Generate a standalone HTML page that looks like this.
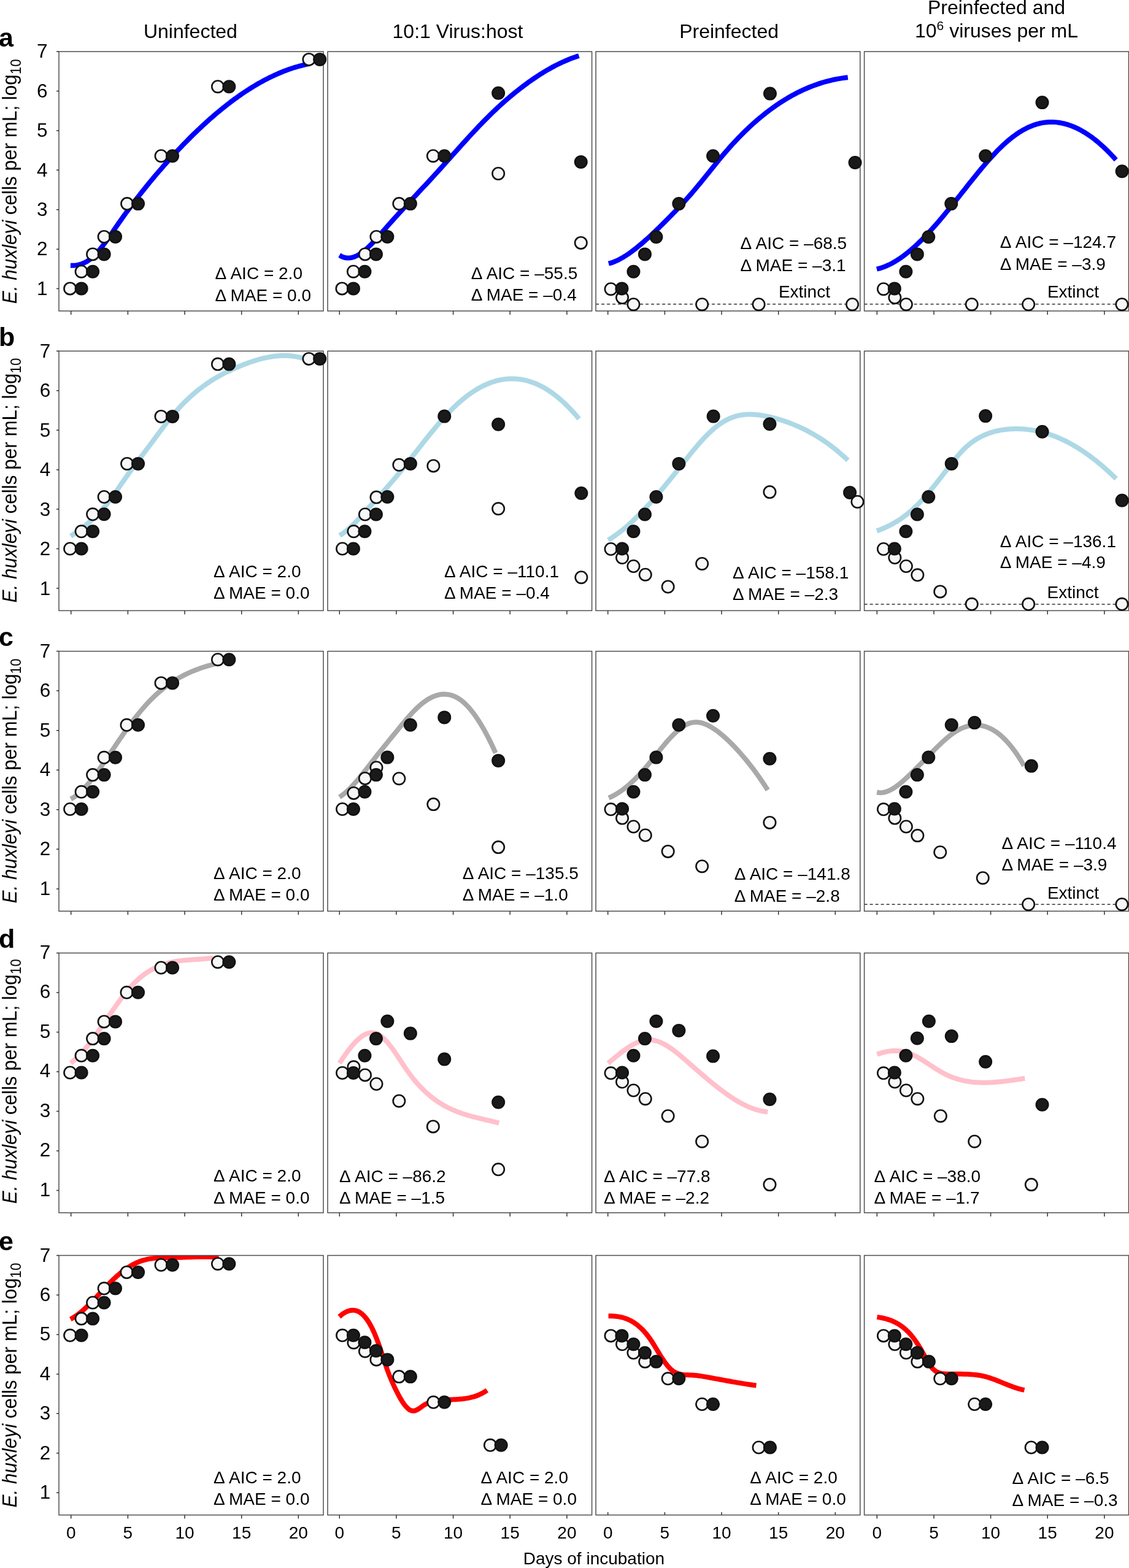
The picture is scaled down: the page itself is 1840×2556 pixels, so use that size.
<!DOCTYPE html><html><head><meta charset="utf-8"><style>html,body{margin:0;padding:0;background:#fff;width:1840px;height:2556px;overflow:hidden}</style></head><body><svg xmlns="http://www.w3.org/2000/svg" width="1840" height="2556" viewBox="0 0 1840 2556" style="position:absolute;left:0;top:0" font-family="'Liberation Sans', Arial, Helvetica, sans-serif">
<rect width="1840" height="2556" fill="#fff"/>
<defs>
<clipPath id="k00"><rect x="96.0" y="84.1" width="431.0" height="422.8"/></clipPath>
<clipPath id="k01"><rect x="534.0" y="84.1" width="430.6" height="422.8"/></clipPath>
<clipPath id="k02"><rect x="971.1" y="84.1" width="430.7" height="422.8"/></clipPath>
<clipPath id="k03"><rect x="1408.6" y="84.1" width="430.9" height="422.8"/></clipPath>
<clipPath id="k10"><rect x="96.0" y="572.3" width="431.0" height="423.1"/></clipPath>
<clipPath id="k11"><rect x="534.0" y="572.3" width="430.6" height="423.1"/></clipPath>
<clipPath id="k12"><rect x="971.1" y="572.3" width="430.7" height="423.1"/></clipPath>
<clipPath id="k13"><rect x="1408.6" y="572.3" width="430.9" height="423.1"/></clipPath>
<clipPath id="k20"><rect x="96.0" y="1061.6" width="431.0" height="423.7"/></clipPath>
<clipPath id="k21"><rect x="534.0" y="1061.6" width="430.6" height="423.7"/></clipPath>
<clipPath id="k22"><rect x="971.1" y="1061.6" width="430.7" height="423.7"/></clipPath>
<clipPath id="k23"><rect x="1408.6" y="1061.6" width="430.9" height="423.7"/></clipPath>
<clipPath id="k30"><rect x="96.0" y="1553.5" width="431.0" height="423.4"/></clipPath>
<clipPath id="k31"><rect x="534.0" y="1553.5" width="430.6" height="423.4"/></clipPath>
<clipPath id="k32"><rect x="971.1" y="1553.5" width="430.7" height="423.4"/></clipPath>
<clipPath id="k33"><rect x="1408.6" y="1553.5" width="430.9" height="423.4"/></clipPath>
<clipPath id="k40"><rect x="96.0" y="2046.5" width="431.0" height="423.1"/></clipPath>
<clipPath id="k41"><rect x="534.0" y="2046.5" width="430.6" height="423.1"/></clipPath>
<clipPath id="k42"><rect x="971.1" y="2046.5" width="430.7" height="423.1"/></clipPath>
<clipPath id="k43"><rect x="1408.6" y="2046.5" width="430.9" height="423.1"/></clipPath>
</defs>
<g font-size="32" text-anchor="middle" fill="#000">
<text x="310.4" y="62">Uninfected</text>
<text x="746" y="62">10:1 Virus:host</text>
<text x="1188.1" y="62">Preinfected</text>
<text x="1624" y="23">Preinfected and</text>
<text x="1624" y="60.6">10<tspan font-size="21" dy="-12">6</tspan><tspan dy="12"> viruses per mL</tspan></text>
</g>
<text x="-2" y="75.9" font-weight="bold" font-size="43">a</text>
<text x="-2" y="564.1" font-weight="bold" font-size="43">b</text>
<text x="-2" y="1053.4" font-weight="bold" font-size="43">c</text>
<text x="-2" y="1545.3" font-weight="bold" font-size="43">d</text>
<text x="-2" y="2038.3" font-weight="bold" font-size="43">e</text>
<text transform="translate(26.5 495.2) rotate(-90) scale(0.968 1)" text-anchor="start" font-size="32.5"><tspan font-style="italic">E. huxleyi</tspan> cells per mL; log<tspan font-size="23" dy="7.5">10</tspan></text>
<text transform="translate(26.5 982.5) rotate(-90) scale(0.968 1)" text-anchor="start" font-size="32.5"><tspan font-style="italic">E. huxleyi</tspan> cells per mL; log<tspan font-size="23" dy="7.5">10</tspan></text>
<text transform="translate(26.5 1472.4) rotate(-90) scale(0.968 1)" text-anchor="start" font-size="32.5"><tspan font-style="italic">E. huxleyi</tspan> cells per mL; log<tspan font-size="23" dy="7.5">10</tspan></text>
<text transform="translate(26.5 1962.2) rotate(-90) scale(0.968 1)" text-anchor="start" font-size="32.5"><tspan font-style="italic">E. huxleyi</tspan> cells per mL; log<tspan font-size="23" dy="7.5">10</tspan></text>
<text transform="translate(26.5 2457.4) rotate(-90) scale(0.968 1)" text-anchor="start" font-size="32.5"><tspan font-style="italic">E. huxleyi</tspan> cells per mL; log<tspan font-size="23" dy="7.5">10</tspan></text>
<path clip-path="url(#k00)" d="M114.90 432.72 L117.90 432.79 L120.91 432.68 L123.91 432.38 L126.92 431.89 L129.92 431.18 L132.93 430.25 L135.93 429.08 L138.94 427.65 L141.94 425.97 L144.95 424.02 L147.95 421.77 L150.96 419.23 L153.96 416.40 L156.96 413.29 L159.97 409.94 L162.97 406.37 L165.98 402.61 L168.98 398.68 L171.99 394.62 L174.99 390.43 L178.00 386.16 L181.00 381.83 L184.01 377.46 L187.01 373.08 L190.02 368.72 L193.02 364.39 L196.02 360.11 L199.03 355.87 L202.03 351.68 L205.04 347.52 L208.04 343.41 L211.05 339.34 L214.05 335.31 L217.06 331.32 L220.06 327.37 L223.07 323.45 L226.07 319.58 L229.08 315.74 L232.08 311.93 L235.08 308.17 L238.09 304.44 L241.09 300.74 L244.10 297.08 L247.10 293.45 L250.11 289.85 L253.11 286.29 L256.12 282.75 L259.12 279.25 L262.13 275.78 L265.13 272.34 L268.14 268.92 L271.14 265.54 L274.14 262.18 L277.15 258.85 L280.15 255.55 L283.16 252.28 L286.16 249.03 L289.17 245.82 L292.17 242.63 L295.18 239.47 L298.18 236.35 L301.19 233.25 L304.19 230.18 L307.20 227.14 L310.20 224.13 L313.20 221.16 L316.21 218.21 L319.21 215.29 L322.22 212.41 L325.22 209.56 L328.23 206.73 L331.23 203.94 L334.24 201.19 L337.24 198.46 L340.25 195.77 L343.25 193.11 L346.26 190.48 L349.26 187.88 L352.26 185.32 L355.27 182.79 L358.27 180.30 L361.28 177.84 L364.28 175.41 L367.29 173.02 L370.29 170.66 L373.30 168.34 L376.30 166.05 L379.31 163.80 L382.31 161.58 L385.32 159.40 L388.32 157.25 L391.32 155.14 L394.33 153.07 L397.33 151.03 L400.34 149.03 L403.34 147.06 L406.35 145.14 L409.35 143.25 L412.36 141.39 L415.36 139.58 L418.37 137.80 L421.37 136.06 L424.38 134.36 L427.38 132.70 L430.38 131.08 L433.39 129.49 L436.39 127.95 L439.40 126.44 L442.40 124.98 L445.41 123.55 L448.41 122.16 L451.42 120.82 L454.42 119.51 L457.43 118.25 L460.43 117.02 L463.44 115.84 L466.44 114.70 L469.44 113.60 L472.45 112.54 L475.45 111.52 L478.46 110.55 L481.46 109.61 L484.47 108.72 L487.47 107.88 L490.48 107.07 L493.48 106.31 L496.49 105.59 L499.49 104.92 L502.50 104.29 L505.50 103.70" fill="none" stroke="#0000ff" stroke-width="8" stroke-linecap="butt"/>
<path clip-path="url(#k01)" d="M553.30 416.09 L556.30 417.82 L559.30 419.11 L562.30 419.98 L565.31 420.45 L568.31 420.53 L571.31 420.26 L574.31 419.65 L577.31 418.71 L580.31 417.47 L583.32 415.95 L586.32 414.16 L589.32 412.13 L592.32 409.87 L595.32 407.40 L598.32 404.75 L601.32 401.93 L604.33 398.97 L607.33 395.88 L610.33 392.67 L613.33 389.38 L616.33 386.02 L619.33 382.61 L622.34 379.17 L625.34 375.72 L628.34 372.27 L631.34 368.85 L634.34 365.45 L637.34 362.08 L640.34 358.73 L643.35 355.40 L646.35 352.09 L649.35 348.79 L652.35 345.52 L655.35 342.25 L658.35 339.00 L661.36 335.76 L664.36 332.53 L667.36 329.31 L670.36 326.09 L673.36 322.88 L676.36 319.68 L679.36 316.47 L682.37 313.26 L685.37 310.05 L688.37 306.84 L691.37 303.62 L694.37 300.40 L697.37 297.17 L700.38 293.93 L703.38 290.67 L706.38 287.41 L709.38 284.13 L712.38 280.83 L715.38 277.52 L718.38 274.20 L721.39 270.87 L724.39 267.53 L727.39 264.18 L730.39 260.82 L733.39 257.47 L736.39 254.11 L739.40 250.76 L742.40 247.40 L745.40 244.05 L748.40 240.71 L751.40 237.37 L754.40 234.05 L757.40 230.74 L760.41 227.44 L763.41 224.15 L766.41 220.88 L769.41 217.64 L772.41 214.41 L775.41 211.21 L778.42 208.03 L781.42 204.87 L784.42 201.75 L787.42 198.66 L790.42 195.60 L793.42 192.57 L796.42 189.58 L799.43 186.62 L802.43 183.71 L805.43 180.83 L808.43 177.99 L811.43 175.19 L814.43 172.43 L817.44 169.71 L820.44 167.02 L823.44 164.37 L826.44 161.76 L829.44 159.19 L832.44 156.65 L835.44 154.16 L838.45 151.69 L841.45 149.27 L844.45 146.88 L847.45 144.53 L850.45 142.22 L853.45 139.95 L856.46 137.71 L859.46 135.50 L862.46 133.34 L865.46 131.22 L868.46 129.13 L871.46 127.08 L874.46 125.07 L877.47 123.11 L880.47 121.18 L883.47 119.29 L886.47 117.45 L889.47 115.65 L892.47 113.89 L895.48 112.17 L898.48 110.50 L901.48 108.87 L904.48 107.29 L907.48 105.75 L910.48 104.25 L913.48 102.80 L916.49 101.40 L919.49 100.05 L922.49 98.74 L925.49 97.48 L928.49 96.26 L931.49 95.10 L934.50 93.99 L937.50 92.92 L940.50 91.91 L943.50 90.94" fill="none" stroke="#0000ff" stroke-width="8" stroke-linecap="butt"/>
<line x1="971.1" x2="1401.8" y1="495.7" y2="495.7" stroke="#333" stroke-width="1.5" stroke-dasharray="5 4"/>
<path clip-path="url(#k02)" d="M991.90 429.65 L994.92 428.82 L997.94 427.85 L1000.97 426.72 L1003.99 425.45 L1007.01 424.05 L1010.03 422.52 L1013.06 420.87 L1016.08 419.10 L1019.10 417.23 L1022.12 415.26 L1025.15 413.19 L1028.17 411.04 L1031.19 408.81 L1034.21 406.51 L1037.24 404.13 L1040.26 401.69 L1043.28 399.19 L1046.30 396.63 L1049.33 394.02 L1052.35 391.35 L1055.37 388.64 L1058.39 385.88 L1061.42 383.07 L1064.44 380.23 L1067.46 377.36 L1070.48 374.46 L1073.51 371.52 L1076.53 368.57 L1079.55 365.59 L1082.57 362.60 L1085.60 359.58 L1088.62 356.55 L1091.64 353.49 L1094.66 350.40 L1097.69 347.29 L1100.71 344.15 L1103.73 340.97 L1106.75 337.77 L1109.78 334.53 L1112.80 331.25 L1115.82 327.94 L1118.84 324.59 L1121.87 321.20 L1124.89 317.76 L1127.91 314.28 L1130.93 310.75 L1133.96 307.17 L1136.98 303.55 L1140.00 299.89 L1143.02 296.19 L1146.05 292.46 L1149.07 288.72 L1152.09 284.96 L1155.11 281.20 L1158.14 277.43 L1161.16 273.67 L1164.18 269.92 L1167.20 266.19 L1170.23 262.48 L1173.25 258.81 L1176.27 255.17 L1179.29 251.58 L1182.32 248.04 L1185.34 244.55 L1188.36 241.12 L1191.38 237.75 L1194.41 234.42 L1197.43 231.16 L1200.45 227.94 L1203.47 224.78 L1206.50 221.68 L1209.52 218.62 L1212.54 215.62 L1215.56 212.67 L1218.59 209.78 L1221.61 206.94 L1224.63 204.15 L1227.65 201.41 L1230.68 198.72 L1233.70 196.09 L1236.72 193.51 L1239.74 190.97 L1242.77 188.49 L1245.79 186.06 L1248.81 183.69 L1251.83 181.36 L1254.86 179.08 L1257.88 176.85 L1260.90 174.67 L1263.92 172.55 L1266.95 170.47 L1269.97 168.44 L1272.99 166.46 L1276.01 164.53 L1279.04 162.64 L1282.06 160.81 L1285.08 159.02 L1288.10 157.29 L1291.13 155.60 L1294.15 153.96 L1297.17 152.36 L1300.19 150.81 L1303.22 149.31 L1306.24 147.86 L1309.26 146.46 L1312.28 145.10 L1315.31 143.78 L1318.33 142.52 L1321.35 141.29 L1324.37 140.12 L1327.40 138.99 L1330.42 137.91 L1333.44 136.87 L1336.46 135.87 L1339.49 134.92 L1342.51 134.02 L1345.53 133.16 L1348.55 132.34 L1351.58 131.57 L1354.60 130.84 L1357.62 130.16 L1360.64 129.52 L1363.67 128.92 L1366.69 128.36 L1369.71 127.85 L1372.73 127.38 L1375.76 126.95 L1378.78 126.57 L1381.80 126.22" fill="none" stroke="#0000ff" stroke-width="8" stroke-linecap="butt"/>
<line x1="1408.6" x2="1839.5" y1="495.7" y2="495.7" stroke="#333" stroke-width="1.5" stroke-dasharray="5 4"/>
<path clip-path="url(#k03)" d="M1428.90 438.65 L1431.92 437.92 L1434.94 437.07 L1437.97 436.09 L1440.99 434.99 L1444.01 433.78 L1447.03 432.45 L1450.06 431.01 L1453.08 429.46 L1456.10 427.81 L1459.12 426.04 L1462.15 424.18 L1465.17 422.22 L1468.19 420.16 L1471.21 418.00 L1474.24 415.75 L1477.26 413.42 L1480.28 410.99 L1483.30 408.48 L1486.33 405.89 L1489.35 403.22 L1492.37 400.47 L1495.39 397.65 L1498.42 394.75 L1501.44 391.79 L1504.46 388.75 L1507.48 385.66 L1510.51 382.50 L1513.53 379.28 L1516.55 376.00 L1519.57 372.67 L1522.60 369.28 L1525.62 365.85 L1528.64 362.37 L1531.66 358.84 L1534.69 355.27 L1537.71 351.66 L1540.73 348.02 L1543.75 344.33 L1546.78 340.62 L1549.80 336.88 L1552.82 333.12 L1555.84 329.33 L1558.87 325.53 L1561.89 321.71 L1564.91 317.89 L1567.93 314.06 L1570.96 310.24 L1573.98 306.41 L1577.00 302.60 L1580.02 298.79 L1583.05 295.00 L1586.07 291.23 L1589.09 287.48 L1592.11 283.76 L1595.14 280.07 L1598.16 276.41 L1601.18 272.80 L1604.20 269.23 L1607.23 265.70 L1610.25 262.23 L1613.27 258.82 L1616.29 255.47 L1619.32 252.18 L1622.34 248.97 L1625.36 245.83 L1628.38 242.77 L1631.41 239.80 L1634.43 236.92 L1637.45 234.13 L1640.47 231.44 L1643.50 228.85 L1646.52 226.36 L1649.54 223.97 L1652.56 221.69 L1655.59 219.51 L1658.61 217.43 L1661.63 215.47 L1664.65 213.60 L1667.68 211.85 L1670.70 210.20 L1673.72 208.66 L1676.74 207.23 L1679.77 205.91 L1682.79 204.71 L1685.81 203.61 L1688.83 202.63 L1691.86 201.76 L1694.88 201.01 L1697.90 200.37 L1700.92 199.85 L1703.95 199.45 L1706.97 199.16 L1709.99 198.98 L1713.01 198.92 L1716.04 198.96 L1719.06 199.12 L1722.08 199.39 L1725.10 199.76 L1728.13 200.24 L1731.15 200.82 L1734.17 201.51 L1737.19 202.30 L1740.22 203.19 L1743.24 204.18 L1746.26 205.28 L1749.28 206.47 L1752.31 207.77 L1755.33 209.16 L1758.35 210.66 L1761.37 212.25 L1764.40 213.94 L1767.42 215.73 L1770.44 217.62 L1773.46 219.60 L1776.49 221.68 L1779.51 223.86 L1782.53 226.13 L1785.55 228.50 L1788.58 230.96 L1791.60 233.51 L1794.62 236.16 L1797.64 238.90 L1800.67 241.74 L1803.69 244.66 L1806.71 247.68 L1809.73 250.78 L1812.76 253.98 L1815.78 257.27 L1818.80 260.65" fill="none" stroke="#0000ff" stroke-width="8" stroke-linecap="butt"/>
<path clip-path="url(#k10)" d="M115.30 873.98 L118.31 871.92 L121.32 869.83 L124.34 867.71 L127.35 865.54 L130.36 863.32 L133.37 861.05 L136.38 858.72 L139.40 856.32 L142.41 853.84 L145.42 851.28 L148.43 848.64 L151.44 845.90 L154.45 843.06 L157.47 840.11 L160.48 837.05 L163.49 833.87 L166.50 830.57 L169.51 827.13 L172.53 823.55 L175.54 819.83 L178.55 815.95 L181.56 811.94 L184.57 807.81 L187.59 803.58 L190.60 799.29 L193.61 794.95 L196.62 790.59 L199.63 786.23 L202.65 781.90 L205.66 777.62 L208.67 773.40 L211.68 769.22 L214.69 765.09 L217.70 761.00 L220.72 756.94 L223.73 752.91 L226.74 748.89 L229.75 744.89 L232.76 740.90 L235.78 736.90 L238.79 732.90 L241.80 728.89 L244.81 724.86 L247.82 720.82 L250.84 716.76 L253.85 712.69 L256.86 708.64 L259.87 704.60 L262.88 700.58 L265.90 696.60 L268.91 692.66 L271.92 688.77 L274.93 684.95 L277.94 681.19 L280.95 677.52 L283.97 673.93 L286.98 670.44 L289.99 667.05 L293.00 663.76 L296.01 660.56 L299.03 657.46 L302.04 654.44 L305.05 651.52 L308.06 648.68 L311.07 645.93 L314.09 643.25 L317.10 640.66 L320.11 638.15 L323.12 635.72 L326.13 633.36 L329.15 631.07 L332.16 628.86 L335.17 626.71 L338.18 624.63 L341.19 622.61 L344.20 620.66 L347.22 618.76 L350.23 616.93 L353.24 615.15 L356.25 613.42 L359.26 611.75 L362.28 610.13 L365.29 608.55 L368.30 607.02 L371.31 605.54 L374.32 604.10 L377.34 602.70 L380.35 601.33 L383.36 600.01 L386.37 598.71 L389.38 597.45 L392.40 596.22 L395.41 595.02 L398.42 593.84 L401.43 592.70 L404.44 591.59 L407.45 590.52 L410.47 589.49 L413.48 588.50 L416.49 587.55 L419.50 586.64 L422.51 585.78 L425.53 584.97 L428.54 584.21 L431.55 583.50 L434.56 582.84 L437.57 582.25 L440.59 581.70 L443.60 581.23 L446.61 580.81 L449.62 580.45 L452.63 580.17 L455.65 579.95 L458.66 579.80 L461.67 579.73 L464.68 579.73 L467.69 579.80 L470.70 579.96 L473.72 580.19 L476.73 580.51 L479.74 580.91 L482.75 581.40 L485.76 581.98 L488.78 582.65 L491.79 583.41 L494.80 584.27" fill="none" stroke="#add8e6" stroke-width="8" stroke-linecap="butt"/>
<path clip-path="url(#k11)" d="M553.50 872.83 L556.50 871.01 L559.50 868.98 L562.50 866.76 L565.50 864.35 L568.50 861.78 L571.50 859.05 L574.51 856.20 L577.51 853.22 L580.51 850.14 L583.51 846.97 L586.51 843.73 L589.51 840.43 L592.51 837.09 L595.51 833.73 L598.51 830.36 L601.51 826.99 L604.51 823.65 L607.51 820.32 L610.51 817.00 L613.52 813.69 L616.52 810.37 L619.52 807.05 L622.52 803.72 L625.52 800.38 L628.52 797.01 L631.52 793.62 L634.52 790.20 L637.52 786.74 L640.52 783.23 L643.52 779.68 L646.52 776.09 L649.52 772.45 L652.53 768.77 L655.53 765.05 L658.53 761.31 L661.53 757.54 L664.53 753.75 L667.53 749.94 L670.53 746.11 L673.53 742.28 L676.53 738.44 L679.53 734.60 L682.53 730.77 L685.53 726.94 L688.53 723.12 L691.54 719.32 L694.54 715.54 L697.54 711.79 L700.54 708.06 L703.54 704.37 L706.54 700.72 L709.54 697.10 L712.54 693.54 L715.54 690.02 L718.54 686.56 L721.54 683.15 L724.54 679.81 L727.54 676.54 L730.55 673.33 L733.55 670.20 L736.55 667.16 L739.55 664.19 L742.55 661.32 L745.55 658.53 L748.55 655.83 L751.55 653.22 L754.55 650.70 L757.55 648.27 L760.55 645.93 L763.55 643.68 L766.55 641.52 L769.56 639.46 L772.56 637.48 L775.56 635.59 L778.56 633.80 L781.56 632.09 L784.56 630.48 L787.56 628.96 L790.56 627.54 L793.56 626.20 L796.56 624.96 L799.56 623.81 L802.56 622.76 L805.56 621.80 L808.57 620.93 L811.57 620.16 L814.57 619.48 L817.57 618.89 L820.57 618.40 L823.57 618.01 L826.57 617.71 L829.57 617.50 L832.57 617.39 L835.57 617.38 L838.57 617.46 L841.57 617.64 L844.57 617.92 L847.58 618.29 L850.58 618.76 L853.58 619.33 L856.58 619.99 L859.58 620.75 L862.58 621.61 L865.58 622.57 L868.58 623.63 L871.58 624.78 L874.58 626.04 L877.58 627.39 L880.58 628.85 L883.58 630.40 L886.59 632.05 L889.59 633.80 L892.59 635.66 L895.59 637.61 L898.59 639.67 L901.59 641.82 L904.59 644.08 L907.59 646.44 L910.59 648.90 L913.59 651.46 L916.59 654.12 L919.59 656.89 L922.59 659.76 L925.60 662.73 L928.60 665.81 L931.60 668.99 L934.60 672.27 L937.60 675.66 L940.60 679.15 L943.60 682.74" fill="none" stroke="#add8e6" stroke-width="8" stroke-linecap="butt"/>
<path clip-path="url(#k12)" d="M991.20 880.35 L994.21 878.52 L997.21 876.59 L1000.22 874.58 L1003.22 872.48 L1006.23 870.30 L1009.23 868.03 L1012.24 865.69 L1015.24 863.27 L1018.25 860.77 L1021.25 858.20 L1024.26 855.56 L1027.26 852.85 L1030.27 850.07 L1033.28 847.23 L1036.28 844.32 L1039.29 841.35 L1042.29 838.33 L1045.30 835.25 L1048.30 832.11 L1051.31 828.92 L1054.31 825.68 L1057.32 822.39 L1060.32 819.05 L1063.33 815.67 L1066.33 812.25 L1069.34 808.79 L1072.35 805.29 L1075.35 801.76 L1078.36 798.19 L1081.36 794.59 L1084.37 790.95 L1087.37 787.30 L1090.38 783.61 L1093.38 779.90 L1096.39 776.17 L1099.39 772.42 L1102.40 768.66 L1105.40 764.88 L1108.41 761.08 L1111.42 757.28 L1114.42 753.49 L1117.43 749.70 L1120.43 745.93 L1123.44 742.19 L1126.44 738.48 L1129.45 734.81 L1132.45 731.19 L1135.46 727.64 L1138.46 724.14 L1141.47 720.73 L1144.47 717.39 L1147.48 714.15 L1150.49 711.00 L1153.49 707.97 L1156.50 705.04 L1159.50 702.24 L1162.51 699.57 L1165.51 697.04 L1168.52 694.65 L1171.52 692.41 L1174.53 690.32 L1177.53 688.36 L1180.54 686.56 L1183.54 684.89 L1186.55 683.37 L1189.56 681.99 L1192.56 680.76 L1195.57 679.66 L1198.57 678.70 L1201.58 677.88 L1204.58 677.19 L1207.59 676.63 L1210.59 676.18 L1213.60 675.84 L1216.60 675.62 L1219.61 675.49 L1222.61 675.47 L1225.62 675.53 L1228.63 675.68 L1231.63 675.91 L1234.64 676.21 L1237.64 676.59 L1240.65 677.02 L1243.65 677.52 L1246.66 678.06 L1249.66 678.66 L1252.67 679.29 L1255.67 679.97 L1258.68 680.69 L1261.68 681.45 L1264.69 682.26 L1267.70 683.10 L1270.70 683.99 L1273.71 684.92 L1276.71 685.89 L1279.72 686.90 L1282.72 687.96 L1285.73 689.05 L1288.73 690.19 L1291.74 691.38 L1294.74 692.60 L1297.75 693.87 L1300.75 695.18 L1303.76 696.54 L1306.77 697.94 L1309.77 699.38 L1312.78 700.88 L1315.78 702.42 L1318.79 704.01 L1321.79 705.65 L1324.80 707.34 L1327.80 709.09 L1330.81 710.88 L1333.81 712.73 L1336.82 714.64 L1339.82 716.60 L1342.83 718.62 L1345.84 720.69 L1348.84 722.83 L1351.85 725.02 L1354.85 727.28 L1357.86 729.59 L1360.86 731.97 L1363.87 734.41 L1366.87 736.92 L1369.88 739.49 L1372.88 742.13 L1375.89 744.83 L1378.89 747.60 L1381.90 750.44" fill="none" stroke="#add8e6" stroke-width="8" stroke-linecap="butt"/>
<line x1="1408.6" x2="1839.5" y1="985" y2="985" stroke="#333" stroke-width="1.5" stroke-dasharray="5 4"/>
<path clip-path="url(#k13)" d="M1428.90 865.46 L1431.90 864.37 L1434.90 863.23 L1437.90 862.02 L1440.90 860.74 L1443.90 859.40 L1446.90 857.98 L1449.91 856.50 L1452.91 854.93 L1455.91 853.28 L1458.91 851.55 L1461.91 849.74 L1464.91 847.83 L1467.91 845.83 L1470.91 843.74 L1473.91 841.55 L1476.91 839.26 L1479.91 836.86 L1482.91 834.36 L1485.91 831.75 L1488.92 829.02 L1491.92 826.18 L1494.92 823.23 L1497.92 820.18 L1500.92 817.03 L1503.92 813.78 L1506.92 810.45 L1509.92 807.04 L1512.92 803.55 L1515.92 799.99 L1518.92 796.38 L1521.92 792.70 L1524.92 788.97 L1527.93 785.20 L1530.93 781.39 L1533.93 777.54 L1536.93 773.67 L1539.93 769.77 L1542.93 765.86 L1545.93 761.94 L1548.93 758.03 L1551.93 754.17 L1554.93 750.36 L1557.93 746.64 L1560.93 743.03 L1563.93 739.56 L1566.94 736.24 L1569.94 733.11 L1572.94 730.17 L1575.94 727.42 L1578.94 724.86 L1581.94 722.47 L1584.94 720.25 L1587.94 718.18 L1590.94 716.26 L1593.94 714.47 L1596.94 712.81 L1599.94 711.26 L1602.94 709.83 L1605.95 708.51 L1608.95 707.29 L1611.95 706.17 L1614.95 705.16 L1617.95 704.23 L1620.95 703.40 L1623.95 702.65 L1626.95 701.98 L1629.95 701.39 L1632.95 700.88 L1635.95 700.44 L1638.95 700.07 L1641.95 699.76 L1644.96 699.51 L1647.96 699.31 L1650.96 699.17 L1653.96 699.10 L1656.96 699.07 L1659.96 699.11 L1662.96 699.20 L1665.96 699.34 L1668.96 699.55 L1671.96 699.81 L1674.96 700.12 L1677.96 700.50 L1680.96 700.92 L1683.97 701.41 L1686.97 701.95 L1689.97 702.55 L1692.97 703.20 L1695.97 703.91 L1698.97 704.68 L1701.97 705.50 L1704.97 706.38 L1707.97 707.31 L1710.97 708.30 L1713.97 709.34 L1716.97 710.44 L1719.97 711.60 L1722.98 712.81 L1725.98 714.07 L1728.98 715.39 L1731.98 716.77 L1734.98 718.20 L1737.98 719.69 L1740.98 721.23 L1743.98 722.82 L1746.98 724.48 L1749.98 726.18 L1752.98 727.94 L1755.98 729.76 L1758.98 731.63 L1761.99 733.55 L1764.99 735.53 L1767.99 737.57 L1770.99 739.66 L1773.99 741.80 L1776.99 743.99 L1779.99 746.25 L1782.99 748.55 L1785.99 750.91 L1788.99 753.32 L1791.99 755.79 L1794.99 758.31 L1797.99 760.89 L1801.00 763.51 L1804.00 766.20 L1807.00 768.93 L1810.00 771.72 L1813.00 774.57 L1816.00 777.46 L1819.00 780.41" fill="none" stroke="#add8e6" stroke-width="8" stroke-linecap="butt"/>
<path clip-path="url(#k20)" d="M115.40 1302.56 L118.41 1300.85 L121.42 1298.89 L124.42 1296.69 L127.43 1294.26 L130.44 1291.61 L133.45 1288.75 L136.45 1285.70 L139.46 1282.47 L142.47 1279.07 L145.48 1275.52 L148.48 1271.82 L151.49 1267.98 L154.50 1264.03 L157.51 1259.97 L160.52 1255.82 L163.52 1251.58 L166.53 1247.27 L169.54 1242.91 L172.55 1238.50 L175.55 1234.05 L178.56 1229.58 L181.57 1225.10 L184.58 1220.63 L187.58 1216.17 L190.59 1211.73 L193.60 1207.32 L196.61 1202.94 L199.62 1198.61 L202.62 1194.31 L205.63 1190.07 L208.64 1185.88 L211.65 1181.75 L214.65 1177.69 L217.66 1173.69 L220.67 1169.78 L223.68 1165.94 L226.68 1162.19 L229.69 1158.53 L232.70 1154.97 L235.71 1151.51 L238.72 1148.16 L241.72 1144.92 L244.73 1141.79 L247.74 1138.76 L250.75 1135.83 L253.75 1133.00 L256.76 1130.27 L259.77 1127.64 L262.78 1125.10 L265.78 1122.65 L268.79 1120.30 L271.80 1118.02 L274.81 1115.84 L277.82 1113.74 L280.82 1111.71 L283.83 1109.77 L286.84 1107.90 L289.85 1106.11 L292.85 1104.39 L295.86 1102.74 L298.87 1101.15 L301.88 1099.63 L304.88 1098.18 L307.89 1096.78 L310.90 1095.44 L313.91 1094.16 L316.92 1092.94 L319.92 1091.77 L322.93 1090.64 L325.94 1089.57 L328.95 1088.54 L331.95 1087.55 L334.96 1086.60 L337.97 1085.70 L340.98 1084.83 L343.98 1083.99 L346.99 1083.19 L350.00 1082.42" fill="none" stroke="#a9a9a9" stroke-width="8" stroke-linecap="butt"/>
<path clip-path="url(#k21)" d="M553.30 1299.38 L556.33 1297.32 L559.36 1295.04 L562.39 1292.55 L565.41 1289.87 L568.44 1287.01 L571.47 1283.98 L574.50 1280.80 L577.53 1277.48 L580.56 1274.04 L583.59 1270.49 L586.61 1266.85 L589.64 1263.12 L592.67 1259.33 L595.70 1255.48 L598.73 1251.60 L601.76 1247.69 L604.79 1243.77 L607.81 1239.85 L610.84 1235.95 L613.87 1232.08 L616.90 1228.25 L619.93 1224.45 L622.96 1220.69 L625.99 1216.94 L629.01 1213.22 L632.04 1209.51 L635.07 1205.80 L638.10 1202.10 L641.13 1198.40 L644.16 1194.68 L647.19 1190.96 L650.21 1187.24 L653.24 1183.53 L656.27 1179.85 L659.30 1176.22 L662.33 1172.65 L665.36 1169.14 L668.39 1165.73 L671.41 1162.42 L674.44 1159.23 L677.47 1156.17 L680.50 1153.25 L683.53 1150.50 L686.56 1147.91 L689.59 1145.49 L692.61 1143.25 L695.64 1141.20 L698.67 1139.32 L701.70 1137.64 L704.73 1136.16 L707.76 1134.87 L710.79 1133.79 L713.81 1132.93 L716.84 1132.27 L719.87 1131.84 L722.90 1131.62 L725.93 1131.64 L728.96 1131.89 L731.99 1132.38 L735.01 1133.12 L738.04 1134.10 L741.07 1135.33 L744.10 1136.83 L747.13 1138.58 L750.16 1140.60 L753.19 1142.89 L756.21 1145.46 L759.24 1148.31 L762.27 1151.42 L765.30 1154.81 L768.33 1158.45 L771.36 1162.35 L774.39 1166.50 L777.41 1170.89 L780.44 1175.53 L783.47 1180.40 L786.50 1185.51 L789.53 1190.84 L792.56 1196.39 L795.59 1202.16 L798.61 1208.15 L801.64 1214.34 L804.67 1220.73 L807.70 1227.31" fill="none" stroke="#a9a9a9" stroke-width="8" stroke-linecap="butt"/>
<path clip-path="url(#k22)" d="M992.10 1300.58 L995.11 1299.28 L998.13 1297.84 L1001.14 1296.26 L1004.15 1294.54 L1007.16 1292.69 L1010.18 1290.71 L1013.19 1288.61 L1016.20 1286.38 L1019.22 1284.03 L1022.23 1281.56 L1025.24 1278.98 L1028.25 1276.29 L1031.27 1273.48 L1034.28 1270.58 L1037.29 1267.57 L1040.30 1264.46 L1043.32 1261.26 L1046.33 1257.96 L1049.34 1254.57 L1052.36 1251.10 L1055.37 1247.55 L1058.38 1243.92 L1061.39 1240.23 L1064.41 1236.51 L1067.42 1232.76 L1070.43 1229.00 L1073.45 1225.25 L1076.46 1221.53 L1079.47 1217.84 L1082.48 1214.22 L1085.50 1210.67 L1088.51 1207.21 L1091.52 1203.86 L1094.53 1200.63 L1097.55 1197.54 L1100.56 1194.60 L1103.57 1191.84 L1106.59 1189.27 L1109.60 1186.90 L1112.61 1184.75 L1115.62 1182.84 L1118.64 1181.18 L1121.65 1179.79 L1124.66 1178.69 L1127.68 1177.89 L1130.69 1177.40 L1133.70 1177.20 L1136.71 1177.29 L1139.73 1177.65 L1142.74 1178.26 L1145.75 1179.11 L1148.77 1180.17 L1151.78 1181.45 L1154.79 1182.91 L1157.80 1184.56 L1160.82 1186.36 L1163.83 1188.30 L1166.84 1190.38 L1169.85 1192.59 L1172.87 1194.91 L1175.88 1197.35 L1178.89 1199.90 L1181.91 1202.56 L1184.92 1205.32 L1187.93 1208.18 L1190.94 1211.14 L1193.96 1214.18 L1196.97 1217.30 L1199.98 1220.51 L1203.00 1223.79 L1206.01 1227.15 L1209.02 1230.58 L1212.03 1234.09 L1215.05 1237.69 L1218.06 1241.37 L1221.07 1245.13 L1224.08 1248.98 L1227.10 1252.92 L1230.11 1256.95 L1233.12 1261.07 L1236.14 1265.29 L1239.15 1269.61 L1242.16 1274.02 L1245.17 1278.54 L1248.19 1283.15 L1251.20 1287.88" fill="none" stroke="#a9a9a9" stroke-width="8" stroke-linecap="butt"/>
<line x1="1408.6" x2="1839.5" y1="1474.2" y2="1474.2" stroke="#333" stroke-width="1.5" stroke-dasharray="5 4"/>
<path clip-path="url(#k23)" d="M1429.10 1291.45 L1432.14 1292.00 L1435.17 1292.16 L1438.21 1291.98 L1441.24 1291.47 L1444.28 1290.65 L1447.31 1289.55 L1450.35 1288.18 L1453.38 1286.58 L1456.42 1284.77 L1459.45 1282.76 L1462.49 1280.58 L1465.53 1278.24 L1468.56 1275.77 L1471.60 1273.17 L1474.63 1270.47 L1477.67 1267.68 L1480.70 1264.81 L1483.74 1261.89 L1486.77 1258.93 L1489.81 1255.94 L1492.84 1252.91 L1495.88 1249.87 L1498.92 1246.80 L1501.95 1243.72 L1504.99 1240.63 L1508.02 1237.53 L1511.06 1234.43 L1514.09 1231.32 L1517.13 1228.22 L1520.16 1225.13 L1523.20 1222.06 L1526.23 1219.01 L1529.27 1216.01 L1532.31 1213.07 L1535.34 1210.19 L1538.38 1207.40 L1541.41 1204.70 L1544.45 1202.11 L1547.48 1199.64 L1550.52 1197.30 L1553.55 1195.10 L1556.59 1193.07 L1559.62 1191.20 L1562.66 1189.49 L1565.69 1187.96 L1568.73 1186.60 L1571.77 1185.40 L1574.80 1184.39 L1577.84 1183.55 L1580.87 1182.88 L1583.91 1182.39 L1586.94 1182.09 L1589.98 1181.97 L1593.01 1182.03 L1596.05 1182.27 L1599.08 1182.71 L1602.12 1183.33 L1605.16 1184.14 L1608.19 1185.15 L1611.23 1186.35 L1614.26 1187.74 L1617.30 1189.33 L1620.33 1191.13 L1623.37 1193.12 L1626.40 1195.31 L1629.44 1197.71 L1632.47 1200.31 L1635.51 1203.13 L1638.55 1206.15 L1641.58 1209.38 L1644.62 1212.82 L1647.65 1216.48 L1650.69 1220.35 L1653.72 1224.44 L1656.76 1228.75 L1659.79 1233.28 L1662.83 1238.04 L1665.86 1243.01 L1668.90 1248.22" fill="none" stroke="#a9a9a9" stroke-width="8" stroke-linecap="butt"/>
<path clip-path="url(#k30)" d="M115.10 1732.94 L118.11 1730.65 L121.12 1728.14 L124.14 1725.43 L127.15 1722.52 L130.16 1719.42 L133.17 1716.16 L136.18 1712.73 L139.19 1709.16 L142.21 1705.45 L145.22 1701.62 L148.23 1697.68 L151.24 1693.64 L154.25 1689.51 L157.26 1685.30 L160.28 1681.04 L163.29 1676.72 L166.30 1672.36 L169.31 1667.97 L172.32 1663.57 L175.33 1659.16 L178.35 1654.77 L181.36 1650.39 L184.37 1646.05 L187.38 1641.75 L190.39 1637.50 L193.40 1633.32 L196.42 1629.23 L199.43 1625.22 L202.44 1621.32 L205.45 1617.54 L208.46 1613.88 L211.47 1610.37 L214.49 1607.00 L217.50 1603.80 L220.51 1600.77 L223.52 1597.91 L226.53 1595.20 L229.54 1592.65 L232.56 1590.25 L235.57 1588.00 L238.58 1585.89 L241.59 1583.92 L244.60 1582.07 L247.61 1580.35 L250.63 1578.75 L253.64 1577.27 L256.65 1575.90 L259.66 1574.64 L262.67 1573.47 L265.68 1572.40 L268.70 1571.42 L271.71 1570.53 L274.72 1569.72 L277.73 1568.99 L280.74 1568.32 L283.75 1567.73 L286.77 1567.19 L289.78 1566.71 L292.79 1566.28 L295.80 1565.90 L298.81 1565.55 L301.82 1565.25 L304.84 1564.97 L307.85 1564.72 L310.86 1564.50 L313.87 1564.28 L316.88 1564.08 L319.89 1563.89 L322.91 1563.70 L325.92 1563.50 L328.93 1563.29 L331.94 1563.07 L334.95 1562.84 L337.96 1562.57 L340.98 1562.28 L343.99 1561.96 L347.00 1561.59" fill="none" stroke="#ffc0cb" stroke-width="8" stroke-linecap="butt"/>
<path clip-path="url(#k31)" d="M553.30 1733.13 L556.32 1728.54 L559.35 1724.06 L562.37 1719.70 L565.39 1715.49 L568.42 1711.44 L571.44 1707.57 L574.46 1703.92 L577.49 1700.49 L580.51 1697.31 L583.53 1694.40 L586.56 1691.79 L589.58 1689.49 L592.60 1687.52 L595.63 1685.90 L598.65 1684.67 L601.67 1683.83 L604.70 1683.40 L607.72 1683.42 L610.74 1683.90 L613.77 1684.86 L616.79 1686.31 L619.81 1688.21 L622.83 1690.54 L625.86 1693.25 L628.88 1696.31 L631.90 1699.70 L634.93 1703.37 L637.95 1707.29 L640.97 1711.43 L644.00 1715.76 L647.02 1720.23 L650.04 1724.80 L653.07 1729.42 L656.09 1734.03 L659.11 1738.58 L662.14 1743.02 L665.16 1747.31 L668.18 1751.43 L671.21 1755.38 L674.23 1759.18 L677.25 1762.82 L680.28 1766.30 L683.30 1769.64 L686.32 1772.84 L689.35 1775.90 L692.37 1778.82 L695.39 1781.61 L698.42 1784.27 L701.44 1786.81 L704.46 1789.23 L707.49 1791.53 L710.51 1793.73 L713.53 1795.81 L716.56 1797.79 L719.58 1799.68 L722.60 1801.46 L725.63 1803.16 L728.65 1804.77 L731.67 1806.29 L734.70 1807.74 L737.72 1809.11 L740.74 1810.41 L743.77 1811.65 L746.79 1812.82 L749.81 1813.93 L752.83 1814.98 L755.86 1815.99 L758.88 1816.94 L761.90 1817.86 L764.93 1818.74 L767.95 1819.58 L770.97 1820.39 L774.00 1821.17 L777.02 1821.93 L780.04 1822.67 L783.07 1823.40 L786.09 1824.11 L789.11 1824.82 L792.14 1825.53 L795.16 1826.23 L798.18 1826.95 L801.21 1827.67 L804.23 1828.40 L807.25 1829.16 L810.28 1829.93 L813.30 1830.73" fill="none" stroke="#ffc0cb" stroke-width="8" stroke-linecap="butt"/>
<path clip-path="url(#k32)" d="M991.20 1733.05 L994.22 1730.54 L997.25 1728.02 L1000.27 1725.51 L1003.29 1723.01 L1006.32 1720.54 L1009.34 1718.12 L1012.36 1715.75 L1015.39 1713.45 L1018.41 1711.24 L1021.43 1709.12 L1024.46 1707.10 L1027.48 1705.21 L1030.50 1703.46 L1033.53 1701.84 L1036.55 1700.38 L1039.57 1699.08 L1042.60 1697.94 L1045.62 1696.99 L1048.64 1696.22 L1051.67 1695.65 L1054.69 1695.28 L1057.71 1695.12 L1060.73 1695.19 L1063.76 1695.50 L1066.78 1696.03 L1069.80 1696.79 L1072.83 1697.76 L1075.85 1698.92 L1078.87 1700.27 L1081.90 1701.80 L1084.92 1703.48 L1087.94 1705.31 L1090.97 1707.27 L1093.99 1709.36 L1097.01 1711.56 L1100.04 1713.85 L1103.06 1716.23 L1106.08 1718.68 L1109.11 1721.19 L1112.13 1723.74 L1115.15 1726.33 L1118.18 1728.95 L1121.20 1731.57 L1124.22 1734.20 L1127.25 1736.83 L1130.27 1739.47 L1133.29 1742.10 L1136.32 1744.73 L1139.34 1747.35 L1142.36 1749.96 L1145.39 1752.56 L1148.41 1755.14 L1151.43 1757.70 L1154.46 1760.24 L1157.48 1762.76 L1160.50 1765.24 L1163.53 1767.70 L1166.55 1770.12 L1169.57 1772.51 L1172.60 1774.85 L1175.62 1777.16 L1178.64 1779.42 L1181.67 1781.63 L1184.69 1783.79 L1187.71 1785.89 L1190.73 1787.94 L1193.76 1789.93 L1196.78 1791.86 L1199.80 1793.72 L1202.83 1795.51 L1205.85 1797.23 L1208.87 1798.88 L1211.90 1800.45 L1214.92 1801.94 L1217.94 1803.35 L1220.97 1804.67 L1223.99 1805.90 L1227.01 1807.04 L1230.04 1808.09 L1233.06 1809.04 L1236.08 1809.89 L1239.11 1810.64 L1242.13 1811.28 L1245.15 1811.81 L1248.18 1812.23 L1251.20 1812.53" fill="none" stroke="#ffc0cb" stroke-width="8" stroke-linecap="butt"/>
<path clip-path="url(#k33)" d="M1429.40 1718.71 L1432.41 1717.64 L1435.42 1716.67 L1438.43 1715.80 L1441.45 1715.03 L1444.46 1714.37 L1447.47 1713.83 L1450.48 1713.40 L1453.49 1713.09 L1456.50 1712.91 L1459.51 1712.86 L1462.52 1712.94 L1465.54 1713.17 L1468.55 1713.53 L1471.56 1714.04 L1474.57 1714.71 L1477.58 1715.53 L1480.59 1716.50 L1483.60 1717.64 L1486.61 1718.93 L1489.62 1720.34 L1492.64 1721.88 L1495.65 1723.52 L1498.66 1725.25 L1501.67 1727.05 L1504.68 1728.92 L1507.69 1730.84 L1510.70 1732.79 L1513.72 1734.76 L1516.73 1736.74 L1519.74 1738.71 L1522.75 1740.66 L1525.76 1742.58 L1528.77 1744.44 L1531.78 1746.24 L1534.79 1747.97 L1537.81 1749.60 L1540.82 1751.14 L1543.83 1752.57 L1546.84 1753.92 L1549.85 1755.17 L1552.86 1756.34 L1555.87 1757.41 L1558.88 1758.40 L1561.89 1759.32 L1564.91 1760.15 L1567.92 1760.90 L1570.93 1761.58 L1573.94 1762.19 L1576.95 1762.72 L1579.96 1763.19 L1582.97 1763.60 L1585.98 1763.94 L1589.00 1764.22 L1592.01 1764.44 L1595.02 1764.61 L1598.03 1764.73 L1601.04 1764.79 L1604.05 1764.81 L1607.06 1764.78 L1610.08 1764.71 L1613.09 1764.60 L1616.10 1764.44 L1619.11 1764.26 L1622.12 1764.04 L1625.13 1763.78 L1628.14 1763.50 L1631.15 1763.19 L1634.16 1762.86 L1637.18 1762.51 L1640.19 1762.13 L1643.20 1761.75 L1646.21 1761.34 L1649.22 1760.93 L1652.23 1760.50 L1655.24 1760.07 L1658.25 1759.63 L1661.27 1759.19 L1664.28 1758.75 L1667.29 1758.32 L1670.30 1757.88" fill="none" stroke="#ffc0cb" stroke-width="8" stroke-linecap="butt"/>
<path clip-path="url(#k40)" d="M114.90 2150.41 L117.92 2148.77 L120.94 2146.93 L123.96 2144.91 L126.98 2142.72 L130.00 2140.36 L133.02 2137.87 L136.04 2135.24 L139.06 2132.49 L142.08 2129.63 L145.10 2126.68 L148.12 2123.65 L151.14 2120.56 L154.16 2117.41 L157.18 2114.22 L160.20 2111.01 L163.22 2107.78 L166.24 2104.55 L169.26 2101.34 L172.28 2098.15 L175.30 2094.99 L178.32 2091.90 L181.34 2088.86 L184.36 2085.91 L187.38 2083.04 L190.40 2080.28 L193.42 2077.64 L196.44 2075.11 L199.46 2072.71 L202.48 2070.43 L205.50 2068.27 L208.52 2066.24 L211.54 2064.33 L214.56 2062.55 L217.58 2060.90 L220.60 2059.38 L223.62 2057.99 L226.64 2056.74 L229.66 2055.62 L232.68 2054.63 L235.70 2053.78 L238.72 2053.05 L241.74 2052.43 L244.76 2051.91 L247.78 2051.48 L250.80 2051.13 L253.82 2050.86 L256.84 2050.64 L259.86 2050.48 L262.88 2050.36 L265.90 2050.27 L268.92 2050.20 L271.94 2050.14 L274.96 2050.08 L277.98 2050.03 L281.00 2049.98 L284.02 2049.92 L287.04 2049.87 L290.06 2049.80 L293.08 2049.73 L296.10 2049.65 L299.12 2049.57 L302.14 2049.47 L305.16 2049.36 L308.18 2049.25 L311.20 2049.14 L314.22 2049.04 L317.24 2048.94 L320.26 2048.85 L323.28 2048.78 L326.30 2048.73 L329.32 2048.69 L332.34 2048.68 L335.36 2048.70 L338.38 2048.76 L341.40 2048.84 L344.42 2048.97 L347.44 2049.14 L350.46 2049.36 L353.48 2049.62 L356.50 2049.94" fill="none" stroke="#ff0000" stroke-width="8" stroke-linecap="butt"/>
<path clip-path="url(#k41)" d="M552.90 2146.36 L555.91 2143.83 L558.92 2141.60 L561.93 2139.70 L564.94 2138.14 L567.96 2136.95 L570.97 2136.16 L573.98 2135.79 L576.99 2135.87 L580.00 2136.42 L583.01 2137.46 L586.02 2139.01 L589.03 2141.12 L592.05 2143.79 L595.06 2147.05 L598.07 2150.92 L601.08 2155.44 L604.09 2160.62 L607.10 2166.50 L610.11 2173.08 L613.12 2180.40 L616.14 2188.37 L619.15 2196.88 L622.16 2205.76 L625.17 2214.91 L628.18 2224.08 L631.19 2232.83 L634.20 2240.88 L637.21 2248.32 L640.23 2255.23 L643.24 2261.71 L646.25 2267.85 L649.26 2273.69 L652.27 2279.16 L655.28 2284.17 L658.29 2288.64 L661.30 2292.49 L664.32 2295.63 L667.33 2297.98 L670.34 2299.46 L673.35 2299.97 L676.36 2299.52 L679.37 2298.30 L682.38 2296.54 L685.39 2294.46 L688.41 2292.30 L691.42 2290.28 L694.43 2288.60 L697.44 2287.24 L700.45 2286.16 L703.46 2285.29 L706.47 2284.56 L709.48 2283.94 L712.50 2283.42 L715.51 2282.98 L718.52 2282.62 L721.53 2282.33 L724.54 2282.09 L727.55 2281.89 L730.56 2281.72 L733.57 2281.57 L736.59 2281.43 L739.60 2281.29 L742.61 2281.14 L745.62 2280.97 L748.63 2280.76 L751.64 2280.51 L754.65 2280.21 L757.66 2279.84 L760.68 2279.39 L763.69 2278.85 L766.70 2278.21 L769.71 2277.47 L772.72 2276.60 L775.73 2275.61 L778.74 2274.47 L781.75 2273.18 L784.77 2271.72 L787.78 2270.09 L790.79 2268.27 L793.80 2266.26" fill="none" stroke="#ff0000" stroke-width="8" stroke-linecap="butt"/>
<path clip-path="url(#k42)" d="M991.60 2145.29 L994.61 2145.27 L997.62 2145.33 L1000.63 2145.48 L1003.64 2145.73 L1006.66 2146.10 L1009.67 2146.59 L1012.68 2147.22 L1015.69 2148.00 L1018.70 2148.93 L1021.71 2150.02 L1024.72 2151.30 L1027.74 2152.77 L1030.75 2154.44 L1033.76 2156.32 L1036.77 2158.42 L1039.78 2160.76 L1042.79 2163.35 L1045.80 2166.18 L1048.81 2169.29 L1051.83 2172.67 L1054.84 2176.35 L1057.85 2180.32 L1060.86 2184.60 L1063.87 2189.20 L1066.88 2194.05 L1069.89 2199.05 L1072.90 2204.08 L1075.91 2209.04 L1078.93 2213.82 L1081.94 2218.33 L1084.95 2222.53 L1087.96 2226.35 L1090.97 2229.75 L1093.98 2232.66 L1096.99 2235.05 L1100.01 2236.93 L1103.02 2238.38 L1106.03 2239.46 L1109.04 2240.22 L1112.05 2240.72 L1115.06 2241.03 L1118.07 2241.21 L1121.08 2241.32 L1124.10 2241.41 L1127.11 2241.55 L1130.12 2241.75 L1133.13 2242.02 L1136.14 2242.35 L1139.15 2242.73 L1142.16 2243.15 L1145.17 2243.61 L1148.18 2244.10 L1151.20 2244.61 L1154.21 2245.15 L1157.22 2245.70 L1160.23 2246.25 L1163.24 2246.81 L1166.25 2247.37 L1169.26 2247.92 L1172.28 2248.48 L1175.29 2249.04 L1178.30 2249.60 L1181.31 2250.15 L1184.32 2250.70 L1187.33 2251.24 L1190.34 2251.79 L1193.35 2252.32 L1196.37 2252.86 L1199.38 2253.38 L1202.39 2253.90 L1205.40 2254.41 L1208.41 2254.91 L1211.42 2255.40 L1214.43 2255.88 L1217.44 2256.36 L1220.45 2256.82 L1223.47 2257.27 L1226.48 2257.70 L1229.49 2258.13 L1232.50 2258.53" fill="none" stroke="#ff0000" stroke-width="8" stroke-linecap="butt"/>
<path clip-path="url(#k43)" d="M1429.40 2146.85 L1432.40 2147.35 L1435.40 2147.90 L1438.40 2148.51 L1441.41 2149.20 L1444.41 2149.98 L1447.41 2150.87 L1450.41 2151.87 L1453.41 2153.01 L1456.41 2154.29 L1459.41 2155.74 L1462.41 2157.36 L1465.41 2159.17 L1468.42 2161.18 L1471.42 2163.41 L1474.42 2165.86 L1477.42 2168.57 L1480.42 2171.52 L1483.42 2174.76 L1486.42 2178.27 L1489.43 2182.09 L1492.43 2186.22 L1495.43 2190.68 L1498.43 2195.48 L1501.43 2200.62 L1504.43 2206.00 L1507.43 2211.46 L1510.43 2216.86 L1513.43 2221.97 L1516.44 2226.53 L1519.44 2230.31 L1522.44 2233.27 L1525.44 2235.51 L1528.44 2237.12 L1531.44 2238.23 L1534.44 2238.92 L1537.45 2239.32 L1540.45 2239.52 L1543.45 2239.63 L1546.45 2239.70 L1549.45 2239.75 L1552.45 2239.78 L1555.45 2239.80 L1558.45 2239.81 L1561.45 2239.82 L1564.46 2239.83 L1567.46 2239.86 L1570.46 2239.91 L1573.46 2239.98 L1576.46 2240.08 L1579.46 2240.21 L1582.46 2240.40 L1585.47 2240.63 L1588.47 2240.91 L1591.47 2241.26 L1594.47 2241.68 L1597.47 2242.17 L1600.47 2242.74 L1603.47 2243.40 L1606.47 2244.15 L1609.47 2244.99 L1612.48 2245.92 L1615.48 2246.91 L1618.48 2247.98 L1621.48 2249.09 L1624.48 2250.25 L1627.48 2251.43 L1630.48 2252.65 L1633.49 2253.87 L1636.49 2255.10 L1639.49 2256.32 L1642.49 2257.52 L1645.49 2258.70 L1648.49 2259.84 L1651.49 2260.93 L1654.49 2261.96 L1657.49 2262.93 L1660.50 2263.82 L1663.50 2264.62 L1666.50 2265.33 L1669.50 2265.93" fill="none" stroke="#ff0000" stroke-width="8" stroke-linecap="butt"/>
<rect x="96.0" y="84.1" width="431.0" height="422.8" fill="none" stroke="#4d4d4d" stroke-width="1.5"/>
<path d="M115.7 506.9V512.9 M208.4 506.9V512.9 M301.0 506.9V512.9 M393.7 506.9V512.9 M486.3 506.9V512.9" stroke="#333" stroke-width="1.5"/>
<rect x="534.0" y="84.1" width="430.6" height="422.8" fill="none" stroke="#4d4d4d" stroke-width="1.5"/>
<path d="M553.3 506.9V512.9 M645.9 506.9V512.9 M738.6 506.9V512.9 M831.2 506.9V512.9 M923.9 506.9V512.9" stroke="#333" stroke-width="1.5"/>
<rect x="971.1" y="84.1" width="430.7" height="422.8" fill="none" stroke="#4d4d4d" stroke-width="1.5"/>
<path d="M990.7 506.9V512.9 M1083.4 506.9V512.9 M1176.0 506.9V512.9 M1268.7 506.9V512.9 M1361.3 506.9V512.9" stroke="#333" stroke-width="1.5"/>
<rect x="1408.6" y="84.1" width="430.9" height="422.8" fill="none" stroke="#4d4d4d" stroke-width="1.5"/>
<path d="M1429.3 506.9V512.9 M1522.0 506.9V512.9 M1614.6 506.9V512.9 M1707.2 506.9V512.9 M1799.9 506.9V512.9" stroke="#333" stroke-width="1.5"/>
<path d="M92 470.6H96 M92 406.2H96 M92 341.7H96 M92 277.3H96 M92 212.9H96 M92 148.5H96 M92 84.1H96" stroke="#333" stroke-width="1.5"/>
<g font-size="31.5" text-anchor="end">
<text x="77.6" y="480.8">1</text>
<text x="77.6" y="416.4">2</text>
<text x="77.6" y="351.9">3</text>
<text x="77.6" y="287.5">4</text>
<text x="77.6" y="223.1">5</text>
<text x="77.6" y="158.7">6</text>
<text x="77.6" y="94.3">7</text>
</g>
<rect x="96.0" y="572.3" width="431.0" height="423.1" fill="none" stroke="#4d4d4d" stroke-width="1.5"/>
<path d="M115.7 995.4V1001.4 M208.4 995.4V1001.4 M301.0 995.4V1001.4 M393.7 995.4V1001.4 M486.3 995.4V1001.4" stroke="#333" stroke-width="1.5"/>
<rect x="534.0" y="572.3" width="430.6" height="423.1" fill="none" stroke="#4d4d4d" stroke-width="1.5"/>
<path d="M553.3 995.4V1001.4 M645.9 995.4V1001.4 M738.6 995.4V1001.4 M831.2 995.4V1001.4 M923.9 995.4V1001.4" stroke="#333" stroke-width="1.5"/>
<rect x="971.1" y="572.3" width="430.7" height="423.1" fill="none" stroke="#4d4d4d" stroke-width="1.5"/>
<path d="M990.7 995.4V1001.4 M1083.4 995.4V1001.4 M1176.0 995.4V1001.4 M1268.7 995.4V1001.4 M1361.3 995.4V1001.4" stroke="#333" stroke-width="1.5"/>
<rect x="1408.6" y="572.3" width="430.9" height="423.1" fill="none" stroke="#4d4d4d" stroke-width="1.5"/>
<path d="M1429.3 995.4V1001.4 M1522.0 995.4V1001.4 M1614.6 995.4V1001.4 M1707.2 995.4V1001.4 M1799.9 995.4V1001.4" stroke="#333" stroke-width="1.5"/>
<path d="M92 959.0H96 M92 894.6H96 M92 830.1H96 M92 765.7H96 M92 701.2H96 M92 636.8H96 M92 572.3H96" stroke="#333" stroke-width="1.5"/>
<g font-size="31.5" text-anchor="end">
<text x="82.4" y="969.6">1</text>
<text x="82.4" y="905.2">2</text>
<text x="82.4" y="840.7">3</text>
<text x="82.4" y="776.3">4</text>
<text x="82.4" y="711.8">5</text>
<text x="82.4" y="647.4">6</text>
<text x="82.4" y="582.9">7</text>
</g>
<rect x="96.0" y="1061.6" width="431.0" height="423.7" fill="none" stroke="#4d4d4d" stroke-width="1.5"/>
<path d="M115.7 1485.3V1491.3 M208.4 1485.3V1491.3 M301.0 1485.3V1491.3 M393.7 1485.3V1491.3 M486.3 1485.3V1491.3" stroke="#333" stroke-width="1.5"/>
<rect x="534.0" y="1061.6" width="430.6" height="423.7" fill="none" stroke="#4d4d4d" stroke-width="1.5"/>
<path d="M553.3 1485.3V1491.3 M645.9 1485.3V1491.3 M738.6 1485.3V1491.3 M831.2 1485.3V1491.3 M923.9 1485.3V1491.3" stroke="#333" stroke-width="1.5"/>
<rect x="971.1" y="1061.6" width="430.7" height="423.7" fill="none" stroke="#4d4d4d" stroke-width="1.5"/>
<path d="M990.7 1485.3V1491.3 M1083.4 1485.3V1491.3 M1176.0 1485.3V1491.3 M1268.7 1485.3V1491.3 M1361.3 1485.3V1491.3" stroke="#333" stroke-width="1.5"/>
<rect x="1408.6" y="1061.6" width="430.9" height="423.7" fill="none" stroke="#4d4d4d" stroke-width="1.5"/>
<path d="M1429.3 1485.3V1491.3 M1522.0 1485.3V1491.3 M1614.6 1485.3V1491.3 M1707.2 1485.3V1491.3 M1799.9 1485.3V1491.3" stroke="#333" stroke-width="1.5"/>
<path d="M92 1448.9H96 M92 1384.3H96 M92 1319.8H96 M92 1255.2H96 M92 1190.7H96 M92 1126.1H96 M92 1061.6H96" stroke="#333" stroke-width="1.5"/>
<g font-size="31.5" text-anchor="end">
<text x="82.4" y="1459.0">1</text>
<text x="82.4" y="1394.4">2</text>
<text x="82.4" y="1329.9">3</text>
<text x="82.4" y="1265.3">4</text>
<text x="82.4" y="1200.8">5</text>
<text x="82.4" y="1136.2">6</text>
<text x="82.4" y="1071.7">7</text>
</g>
<rect x="96.0" y="1553.5" width="431.0" height="423.4" fill="none" stroke="#4d4d4d" stroke-width="1.5"/>
<path d="M115.7 1976.9V1982.9 M208.4 1976.9V1982.9 M301.0 1976.9V1982.9 M393.7 1976.9V1982.9 M486.3 1976.9V1982.9" stroke="#333" stroke-width="1.5"/>
<rect x="534.0" y="1553.5" width="430.6" height="423.4" fill="none" stroke="#4d4d4d" stroke-width="1.5"/>
<path d="M553.3 1976.9V1982.9 M645.9 1976.9V1982.9 M738.6 1976.9V1982.9 M831.2 1976.9V1982.9 M923.9 1976.9V1982.9" stroke="#333" stroke-width="1.5"/>
<rect x="971.1" y="1553.5" width="430.7" height="423.4" fill="none" stroke="#4d4d4d" stroke-width="1.5"/>
<path d="M990.7 1976.9V1982.9 M1083.4 1976.9V1982.9 M1176.0 1976.9V1982.9 M1268.7 1976.9V1982.9 M1361.3 1976.9V1982.9" stroke="#333" stroke-width="1.5"/>
<rect x="1408.6" y="1553.5" width="430.9" height="423.4" fill="none" stroke="#4d4d4d" stroke-width="1.5"/>
<path d="M1429.3 1976.9V1982.9 M1522.0 1976.9V1982.9 M1614.6 1976.9V1982.9 M1707.2 1976.9V1982.9 M1799.9 1976.9V1982.9" stroke="#333" stroke-width="1.5"/>
<path d="M92 1940.5H96 M92 1876.0H96 M92 1811.5H96 M92 1747.0H96 M92 1682.5H96 M92 1618.0H96 M92 1553.5H96" stroke="#333" stroke-width="1.5"/>
<g font-size="31.5" text-anchor="end">
<text x="82.4" y="1949.8">1</text>
<text x="82.4" y="1885.3">2</text>
<text x="82.4" y="1820.8">3</text>
<text x="82.4" y="1756.3">4</text>
<text x="82.4" y="1691.8">5</text>
<text x="82.4" y="1627.3">6</text>
<text x="82.4" y="1562.8">7</text>
</g>
<rect x="96.0" y="2046.5" width="431.0" height="423.1" fill="none" stroke="#4d4d4d" stroke-width="1.5"/>
<path d="M115.7 2469.6V2475.6 M208.4 2469.6V2475.6 M301.0 2469.6V2475.6 M393.7 2469.6V2475.6 M486.3 2469.6V2475.6" stroke="#333" stroke-width="1.5"/>
<rect x="534.0" y="2046.5" width="430.6" height="423.1" fill="none" stroke="#4d4d4d" stroke-width="1.5"/>
<path d="M553.3 2469.6V2475.6 M645.9 2469.6V2475.6 M738.6 2469.6V2475.6 M831.2 2469.6V2475.6 M923.9 2469.6V2475.6" stroke="#333" stroke-width="1.5"/>
<rect x="971.1" y="2046.5" width="430.7" height="423.1" fill="none" stroke="#4d4d4d" stroke-width="1.5"/>
<path d="M990.7 2469.6V2465.1 M1083.4 2469.6V2465.1 M1176.0 2469.6V2465.1 M1268.7 2469.6V2465.1 M1361.3 2469.6V2465.1" stroke="#333" stroke-width="1.5"/>
<rect x="1408.6" y="2046.5" width="430.9" height="423.1" fill="none" stroke="#4d4d4d" stroke-width="1.5"/>
<path d="M1429.3 2469.6V2475.6 M1522.0 2469.6V2475.6 M1614.6 2469.6V2475.6 M1707.2 2469.6V2475.6 M1799.9 2469.6V2475.6" stroke="#333" stroke-width="1.5"/>
<path d="M92 2433.2H96 M92 2368.8H96 M92 2304.3H96 M92 2239.9H96 M92 2175.4H96 M92 2111.0H96 M92 2046.5H96" stroke="#333" stroke-width="1.5"/>
<g font-size="31.5" text-anchor="end">
<text x="82.4" y="2443.2">1</text>
<text x="82.4" y="2378.8">2</text>
<text x="82.4" y="2314.3">3</text>
<text x="82.4" y="2249.9">4</text>
<text x="82.4" y="2185.4">5</text>
<text x="82.4" y="2121.0">6</text>
<text x="82.4" y="2056.5">7</text>
</g>
<g font-size="28" text-anchor="middle">
<text x="115.7" y="2508">0</text>
<text x="208.4" y="2508">5</text>
<text x="301.0" y="2508">10</text>
<text x="393.7" y="2508">15</text>
<text x="486.3" y="2508">20</text>
<text x="553.3" y="2508">0</text>
<text x="645.9" y="2508">5</text>
<text x="738.6" y="2508">10</text>
<text x="831.2" y="2508">15</text>
<text x="923.9" y="2508">20</text>
<text x="990.7" y="2508">0</text>
<text x="1083.4" y="2508">5</text>
<text x="1176.0" y="2508">10</text>
<text x="1268.7" y="2508">15</text>
<text x="1361.3" y="2508">20</text>
<text x="1429.3" y="2508">0</text>
<text x="1522.0" y="2508">5</text>
<text x="1614.6" y="2508">10</text>
<text x="1707.2" y="2508">15</text>
<text x="1799.9" y="2508">20</text>
</g>
<text x="967.9" y="2550" text-anchor="middle" font-size="28">Days of incubation</text>
<circle cx="114.15" cy="470.40" r="9.7" fill="#f7f7f7" stroke="#111" stroke-width="2.6"/>
<circle cx="132.65" cy="442.70" r="9.7" fill="#f7f7f7" stroke="#111" stroke-width="2.6"/>
<circle cx="151.15" cy="414.40" r="9.7" fill="#f7f7f7" stroke="#111" stroke-width="2.6"/>
<circle cx="169.65" cy="385.90" r="9.7" fill="#f7f7f7" stroke="#111" stroke-width="2.6"/>
<circle cx="207.15" cy="332.10" r="9.7" fill="#f7f7f7" stroke="#111" stroke-width="2.6"/>
<circle cx="262.55" cy="254.20" r="9.7" fill="#f7f7f7" stroke="#111" stroke-width="2.6"/>
<circle cx="354.95" cy="141.20" r="9.7" fill="#f7f7f7" stroke="#111" stroke-width="2.6"/>
<circle cx="503.45" cy="96.90" r="9.7" fill="#f7f7f7" stroke="#111" stroke-width="2.6"/>
<circle cx="132.65" cy="470.40" r="9.7" fill="#1a1a1a" stroke="#111" stroke-width="2.6"/>
<circle cx="151.15" cy="442.70" r="9.7" fill="#1a1a1a" stroke="#111" stroke-width="2.6"/>
<circle cx="169.65" cy="414.40" r="9.7" fill="#1a1a1a" stroke="#111" stroke-width="2.6"/>
<circle cx="188.05" cy="385.90" r="9.7" fill="#1a1a1a" stroke="#111" stroke-width="2.6"/>
<circle cx="225.05" cy="332.10" r="9.7" fill="#1a1a1a" stroke="#111" stroke-width="2.6"/>
<circle cx="281.05" cy="254.20" r="9.7" fill="#1a1a1a" stroke="#111" stroke-width="2.6"/>
<circle cx="373.35" cy="141.20" r="9.7" fill="#1a1a1a" stroke="#111" stroke-width="2.6"/>
<circle cx="521.15" cy="96.90" r="9.7" fill="#1a1a1a" stroke="#111" stroke-width="2.6"/>
<text x="350.5" y="454.9" text-anchor="start" font-size="28">Δ AIC = 2.0</text>
<text x="350.5" y="490.6" text-anchor="start" font-size="28">Δ MAE = 0.0</text>
<circle cx="557.45" cy="470.40" r="9.7" fill="#f7f7f7" stroke="#111" stroke-width="2.6"/>
<circle cx="575.95" cy="442.70" r="9.7" fill="#f7f7f7" stroke="#111" stroke-width="2.6"/>
<circle cx="594.95" cy="414.40" r="9.7" fill="#f7f7f7" stroke="#111" stroke-width="2.6"/>
<circle cx="613.45" cy="385.90" r="9.7" fill="#f7f7f7" stroke="#111" stroke-width="2.6"/>
<circle cx="650.35" cy="332.10" r="9.7" fill="#f7f7f7" stroke="#111" stroke-width="2.6"/>
<circle cx="705.85" cy="254.20" r="9.7" fill="#f7f7f7" stroke="#111" stroke-width="2.6"/>
<circle cx="812.15" cy="283.00" r="9.7" fill="#f7f7f7" stroke="#111" stroke-width="2.6"/>
<circle cx="946.75" cy="395.90" r="9.7" fill="#f7f7f7" stroke="#111" stroke-width="2.6"/>
<circle cx="575.95" cy="470.40" r="9.7" fill="#1a1a1a" stroke="#111" stroke-width="2.6"/>
<circle cx="594.45" cy="442.70" r="9.7" fill="#1a1a1a" stroke="#111" stroke-width="2.6"/>
<circle cx="612.95" cy="414.40" r="9.7" fill="#1a1a1a" stroke="#111" stroke-width="2.6"/>
<circle cx="631.35" cy="385.90" r="9.7" fill="#1a1a1a" stroke="#111" stroke-width="2.6"/>
<circle cx="668.85" cy="332.10" r="9.7" fill="#1a1a1a" stroke="#111" stroke-width="2.6"/>
<circle cx="724.25" cy="254.20" r="9.7" fill="#1a1a1a" stroke="#111" stroke-width="2.6"/>
<circle cx="812.15" cy="151.80" r="9.7" fill="#1a1a1a" stroke="#111" stroke-width="2.6"/>
<circle cx="946.75" cy="264.00" r="9.7" fill="#1a1a1a" stroke="#111" stroke-width="2.6"/>
<text x="767.6999999999999" y="454.8" text-anchor="start" font-size="28">Δ AIC = –55.5</text>
<text x="767.6999999999999" y="489.9" text-anchor="start" font-size="28">Δ MAE = –0.4</text>
<circle cx="995.55" cy="471.20" r="9.7" fill="#f7f7f7" stroke="#111" stroke-width="2.6"/>
<circle cx="1014.05" cy="485.10" r="9.7" fill="#f7f7f7" stroke="#111" stroke-width="2.6"/>
<circle cx="1032.45" cy="496.20" r="9.7" fill="#f7f7f7" stroke="#111" stroke-width="2.6"/>
<circle cx="1144.15" cy="496.20" r="9.7" fill="#f7f7f7" stroke="#111" stroke-width="2.6"/>
<circle cx="1236.55" cy="496.20" r="9.7" fill="#f7f7f7" stroke="#111" stroke-width="2.6"/>
<circle cx="1389.05" cy="496.20" r="9.7" fill="#f7f7f7" stroke="#111" stroke-width="2.6"/>
<circle cx="1013.45" cy="470.40" r="9.7" fill="#1a1a1a" stroke="#111" stroke-width="2.6"/>
<circle cx="1032.45" cy="442.70" r="9.7" fill="#1a1a1a" stroke="#111" stroke-width="2.6"/>
<circle cx="1050.95" cy="414.40" r="9.7" fill="#1a1a1a" stroke="#111" stroke-width="2.6"/>
<circle cx="1069.45" cy="386.20" r="9.7" fill="#1a1a1a" stroke="#111" stroke-width="2.6"/>
<circle cx="1106.35" cy="332.10" r="9.7" fill="#1a1a1a" stroke="#111" stroke-width="2.6"/>
<circle cx="1162.05" cy="254.20" r="9.7" fill="#1a1a1a" stroke="#111" stroke-width="2.6"/>
<circle cx="1254.95" cy="152.60" r="9.7" fill="#1a1a1a" stroke="#111" stroke-width="2.6"/>
<circle cx="1393.55" cy="265.00" r="9.7" fill="#1a1a1a" stroke="#111" stroke-width="2.6"/>
<text x="1206.6" y="406.1" text-anchor="start" font-size="28">Δ AIC = –68.5</text>
<text x="1206.6" y="441.7" text-anchor="start" font-size="28">Δ MAE = –3.1</text>
<text x="1268.9" y="485.4" text-anchor="start" font-size="28">Extinct</text>
<circle cx="1439.95" cy="471.20" r="9.7" fill="#f7f7f7" stroke="#111" stroke-width="2.6"/>
<circle cx="1458.35" cy="485.10" r="9.7" fill="#f7f7f7" stroke="#111" stroke-width="2.6"/>
<circle cx="1476.85" cy="496.20" r="9.7" fill="#f7f7f7" stroke="#111" stroke-width="2.6"/>
<circle cx="1583.75" cy="496.20" r="9.7" fill="#f7f7f7" stroke="#111" stroke-width="2.6"/>
<circle cx="1676.15" cy="496.20" r="9.7" fill="#f7f7f7" stroke="#111" stroke-width="2.6"/>
<circle cx="1828.45" cy="496.20" r="9.7" fill="#f7f7f7" stroke="#111" stroke-width="2.6"/>
<circle cx="1457.85" cy="470.40" r="9.7" fill="#1a1a1a" stroke="#111" stroke-width="2.6"/>
<circle cx="1476.35" cy="442.70" r="9.7" fill="#1a1a1a" stroke="#111" stroke-width="2.6"/>
<circle cx="1494.85" cy="414.40" r="9.7" fill="#1a1a1a" stroke="#111" stroke-width="2.6"/>
<circle cx="1513.25" cy="386.20" r="9.7" fill="#1a1a1a" stroke="#111" stroke-width="2.6"/>
<circle cx="1550.25" cy="332.10" r="9.7" fill="#1a1a1a" stroke="#111" stroke-width="2.6"/>
<circle cx="1606.15" cy="254.20" r="9.7" fill="#1a1a1a" stroke="#111" stroke-width="2.6"/>
<circle cx="1698.55" cy="167.10" r="9.7" fill="#1a1a1a" stroke="#111" stroke-width="2.6"/>
<circle cx="1828.65" cy="279.30" r="9.7" fill="#1a1a1a" stroke="#111" stroke-width="2.6"/>
<text x="1629.8" y="403.6" text-anchor="start" font-size="28">Δ AIC = –124.7</text>
<text x="1629.8" y="439.7" text-anchor="start" font-size="28">Δ MAE = –3.9</text>
<text x="1706.9" y="485.4" text-anchor="start" font-size="28">Extinct</text>
<circle cx="114.15" cy="894.50" r="9.7" fill="#f7f7f7" stroke="#111" stroke-width="2.6"/>
<circle cx="132.65" cy="866.30" r="9.7" fill="#f7f7f7" stroke="#111" stroke-width="2.6"/>
<circle cx="151.15" cy="838.30" r="9.7" fill="#f7f7f7" stroke="#111" stroke-width="2.6"/>
<circle cx="169.65" cy="810.00" r="9.7" fill="#f7f7f7" stroke="#111" stroke-width="2.6"/>
<circle cx="207.15" cy="755.90" r="9.7" fill="#f7f7f7" stroke="#111" stroke-width="2.6"/>
<circle cx="262.55" cy="678.90" r="9.7" fill="#f7f7f7" stroke="#111" stroke-width="2.6"/>
<circle cx="354.95" cy="593.60" r="9.7" fill="#f7f7f7" stroke="#111" stroke-width="2.6"/>
<circle cx="503.45" cy="584.90" r="9.7" fill="#f7f7f7" stroke="#111" stroke-width="2.6"/>
<circle cx="132.65" cy="894.50" r="9.7" fill="#1a1a1a" stroke="#111" stroke-width="2.6"/>
<circle cx="151.15" cy="866.30" r="9.7" fill="#1a1a1a" stroke="#111" stroke-width="2.6"/>
<circle cx="169.65" cy="838.30" r="9.7" fill="#1a1a1a" stroke="#111" stroke-width="2.6"/>
<circle cx="188.05" cy="810.00" r="9.7" fill="#1a1a1a" stroke="#111" stroke-width="2.6"/>
<circle cx="225.05" cy="755.90" r="9.7" fill="#1a1a1a" stroke="#111" stroke-width="2.6"/>
<circle cx="281.05" cy="678.90" r="9.7" fill="#1a1a1a" stroke="#111" stroke-width="2.6"/>
<circle cx="373.35" cy="593.60" r="9.7" fill="#1a1a1a" stroke="#111" stroke-width="2.6"/>
<circle cx="521.15" cy="584.90" r="9.7" fill="#1a1a1a" stroke="#111" stroke-width="2.6"/>
<text x="348.1" y="941" text-anchor="start" font-size="28">Δ AIC = 2.0</text>
<text x="348.1" y="976.3" text-anchor="start" font-size="28">Δ MAE = 0.0</text>
<circle cx="558.05" cy="894.50" r="9.7" fill="#f7f7f7" stroke="#111" stroke-width="2.6"/>
<circle cx="576.45" cy="866.30" r="9.7" fill="#f7f7f7" stroke="#111" stroke-width="2.6"/>
<circle cx="594.95" cy="838.50" r="9.7" fill="#f7f7f7" stroke="#111" stroke-width="2.6"/>
<circle cx="613.45" cy="810.60" r="9.7" fill="#f7f7f7" stroke="#111" stroke-width="2.6"/>
<circle cx="650.35" cy="757.80" r="9.7" fill="#f7f7f7" stroke="#111" stroke-width="2.6"/>
<circle cx="706.35" cy="759.40" r="9.7" fill="#f7f7f7" stroke="#111" stroke-width="2.6"/>
<circle cx="812.15" cy="829.30" r="9.7" fill="#f7f7f7" stroke="#111" stroke-width="2.6"/>
<circle cx="947.35" cy="941.20" r="9.7" fill="#f7f7f7" stroke="#111" stroke-width="2.6"/>
<circle cx="575.95" cy="894.50" r="9.7" fill="#1a1a1a" stroke="#111" stroke-width="2.6"/>
<circle cx="594.45" cy="866.30" r="9.7" fill="#1a1a1a" stroke="#111" stroke-width="2.6"/>
<circle cx="612.95" cy="838.50" r="9.7" fill="#1a1a1a" stroke="#111" stroke-width="2.6"/>
<circle cx="631.35" cy="810.00" r="9.7" fill="#1a1a1a" stroke="#111" stroke-width="2.6"/>
<circle cx="668.85" cy="755.90" r="9.7" fill="#1a1a1a" stroke="#111" stroke-width="2.6"/>
<circle cx="724.25" cy="678.60" r="9.7" fill="#1a1a1a" stroke="#111" stroke-width="2.6"/>
<circle cx="812.15" cy="691.80" r="9.7" fill="#1a1a1a" stroke="#111" stroke-width="2.6"/>
<circle cx="947.35" cy="804.00" r="9.7" fill="#1a1a1a" stroke="#111" stroke-width="2.6"/>
<text x="723.9" y="940.5" text-anchor="start" font-size="28">Δ AIC = –110.1</text>
<text x="723.9" y="975.8" text-anchor="start" font-size="28">Δ MAE = –0.4</text>
<circle cx="995.55" cy="895.00" r="9.7" fill="#f7f7f7" stroke="#111" stroke-width="2.6"/>
<circle cx="1014.05" cy="909.00" r="9.7" fill="#f7f7f7" stroke="#111" stroke-width="2.6"/>
<circle cx="1032.45" cy="923.00" r="9.7" fill="#f7f7f7" stroke="#111" stroke-width="2.6"/>
<circle cx="1051.75" cy="936.70" r="9.7" fill="#f7f7f7" stroke="#111" stroke-width="2.6"/>
<circle cx="1088.65" cy="956.50" r="9.7" fill="#f7f7f7" stroke="#111" stroke-width="2.6"/>
<circle cx="1144.15" cy="919.00" r="9.7" fill="#f7f7f7" stroke="#111" stroke-width="2.6"/>
<circle cx="1254.45" cy="802.10" r="9.7" fill="#f7f7f7" stroke="#111" stroke-width="2.6"/>
<circle cx="1014.05" cy="894.50" r="9.7" fill="#1a1a1a" stroke="#111" stroke-width="2.6"/>
<circle cx="1032.45" cy="866.30" r="9.7" fill="#1a1a1a" stroke="#111" stroke-width="2.6"/>
<circle cx="1050.95" cy="838.50" r="9.7" fill="#1a1a1a" stroke="#111" stroke-width="2.6"/>
<circle cx="1069.45" cy="810.00" r="9.7" fill="#1a1a1a" stroke="#111" stroke-width="2.6"/>
<circle cx="1106.35" cy="755.90" r="9.7" fill="#1a1a1a" stroke="#111" stroke-width="2.6"/>
<circle cx="1162.65" cy="678.60" r="9.7" fill="#1a1a1a" stroke="#111" stroke-width="2.6"/>
<circle cx="1254.45" cy="691.30" r="9.7" fill="#1a1a1a" stroke="#111" stroke-width="2.6"/>
<circle cx="1385.05" cy="802.90" r="9.7" fill="#1a1a1a" stroke="#111" stroke-width="2.6"/>
<circle cx="1397.45" cy="818.00" r="9.7" fill="#f7f7f7" stroke="#111" stroke-width="2.6"/>
<text x="1194.1" y="942.8" text-anchor="start" font-size="28">Δ AIC = –158.1</text>
<text x="1194.1" y="977.6" text-anchor="start" font-size="28">Δ MAE = –2.3</text>
<circle cx="1439.95" cy="895.00" r="9.7" fill="#f7f7f7" stroke="#111" stroke-width="2.6"/>
<circle cx="1458.35" cy="909.00" r="9.7" fill="#f7f7f7" stroke="#111" stroke-width="2.6"/>
<circle cx="1476.85" cy="923.00" r="9.7" fill="#f7f7f7" stroke="#111" stroke-width="2.6"/>
<circle cx="1495.35" cy="937.30" r="9.7" fill="#f7f7f7" stroke="#111" stroke-width="2.6"/>
<circle cx="1532.25" cy="964.40" r="9.7" fill="#f7f7f7" stroke="#111" stroke-width="2.6"/>
<circle cx="1583.75" cy="984.80" r="9.7" fill="#f7f7f7" stroke="#111" stroke-width="2.6"/>
<circle cx="1676.15" cy="984.80" r="9.7" fill="#f7f7f7" stroke="#111" stroke-width="2.6"/>
<circle cx="1828.45" cy="984.80" r="9.7" fill="#f7f7f7" stroke="#111" stroke-width="2.6"/>
<circle cx="1457.85" cy="894.50" r="9.7" fill="#1a1a1a" stroke="#111" stroke-width="2.6"/>
<circle cx="1476.35" cy="866.30" r="9.7" fill="#1a1a1a" stroke="#111" stroke-width="2.6"/>
<circle cx="1494.85" cy="838.50" r="9.7" fill="#1a1a1a" stroke="#111" stroke-width="2.6"/>
<circle cx="1513.25" cy="810.00" r="9.7" fill="#1a1a1a" stroke="#111" stroke-width="2.6"/>
<circle cx="1550.75" cy="755.90" r="9.7" fill="#1a1a1a" stroke="#111" stroke-width="2.6"/>
<circle cx="1606.15" cy="678.10" r="9.7" fill="#1a1a1a" stroke="#111" stroke-width="2.6"/>
<circle cx="1698.55" cy="703.70" r="9.7" fill="#1a1a1a" stroke="#111" stroke-width="2.6"/>
<circle cx="1828.65" cy="815.80" r="9.7" fill="#1a1a1a" stroke="#111" stroke-width="2.6"/>
<text x="1629.8" y="892" text-anchor="start" font-size="28">Δ AIC = –136.1</text>
<text x="1629.8" y="926.4" text-anchor="start" font-size="28">Δ MAE = –4.9</text>
<text x="1706.5" y="975.4" text-anchor="start" font-size="28">Extinct</text>
<circle cx="114.15" cy="1319.00" r="9.7" fill="#f7f7f7" stroke="#111" stroke-width="2.6"/>
<circle cx="132.65" cy="1290.80" r="9.7" fill="#f7f7f7" stroke="#111" stroke-width="2.6"/>
<circle cx="151.15" cy="1263.10" r="9.7" fill="#f7f7f7" stroke="#111" stroke-width="2.6"/>
<circle cx="169.65" cy="1234.80" r="9.7" fill="#f7f7f7" stroke="#111" stroke-width="2.6"/>
<circle cx="206.55" cy="1181.80" r="9.7" fill="#f7f7f7" stroke="#111" stroke-width="2.6"/>
<circle cx="262.55" cy="1113.40" r="9.7" fill="#f7f7f7" stroke="#111" stroke-width="2.6"/>
<circle cx="354.95" cy="1075.20" r="9.7" fill="#f7f7f7" stroke="#111" stroke-width="2.6"/>
<circle cx="132.65" cy="1319.00" r="9.7" fill="#1a1a1a" stroke="#111" stroke-width="2.6"/>
<circle cx="151.15" cy="1290.80" r="9.7" fill="#1a1a1a" stroke="#111" stroke-width="2.6"/>
<circle cx="169.65" cy="1263.10" r="9.7" fill="#1a1a1a" stroke="#111" stroke-width="2.6"/>
<circle cx="188.05" cy="1234.80" r="9.7" fill="#1a1a1a" stroke="#111" stroke-width="2.6"/>
<circle cx="225.05" cy="1181.80" r="9.7" fill="#1a1a1a" stroke="#111" stroke-width="2.6"/>
<circle cx="281.05" cy="1113.40" r="9.7" fill="#1a1a1a" stroke="#111" stroke-width="2.6"/>
<circle cx="373.35" cy="1075.20" r="9.7" fill="#1a1a1a" stroke="#111" stroke-width="2.6"/>
<text x="348.1" y="1432.8" text-anchor="start" font-size="28">Δ AIC = 2.0</text>
<text x="348.1" y="1467.6" text-anchor="start" font-size="28">Δ MAE = 0.0</text>
<circle cx="558.05" cy="1319.00" r="9.7" fill="#f7f7f7" stroke="#111" stroke-width="2.6"/>
<circle cx="576.45" cy="1292.90" r="9.7" fill="#f7f7f7" stroke="#111" stroke-width="2.6"/>
<circle cx="594.95" cy="1268.90" r="9.7" fill="#f7f7f7" stroke="#111" stroke-width="2.6"/>
<circle cx="613.45" cy="1251.20" r="9.7" fill="#f7f7f7" stroke="#111" stroke-width="2.6"/>
<circle cx="650.35" cy="1269.20" r="9.7" fill="#f7f7f7" stroke="#111" stroke-width="2.6"/>
<circle cx="706.35" cy="1311.10" r="9.7" fill="#f7f7f7" stroke="#111" stroke-width="2.6"/>
<circle cx="812.15" cy="1381.10" r="9.7" fill="#f7f7f7" stroke="#111" stroke-width="2.6"/>
<circle cx="575.95" cy="1319.00" r="9.7" fill="#1a1a1a" stroke="#111" stroke-width="2.6"/>
<circle cx="594.45" cy="1290.80" r="9.7" fill="#1a1a1a" stroke="#111" stroke-width="2.6"/>
<circle cx="612.95" cy="1263.10" r="9.7" fill="#1a1a1a" stroke="#111" stroke-width="2.6"/>
<circle cx="631.35" cy="1234.60" r="9.7" fill="#1a1a1a" stroke="#111" stroke-width="2.6"/>
<circle cx="668.85" cy="1181.80" r="9.7" fill="#1a1a1a" stroke="#111" stroke-width="2.6"/>
<circle cx="724.25" cy="1169.40" r="9.7" fill="#1a1a1a" stroke="#111" stroke-width="2.6"/>
<circle cx="812.15" cy="1239.90" r="9.7" fill="#1a1a1a" stroke="#111" stroke-width="2.6"/>
<text x="753.6999999999999" y="1432.8" text-anchor="start" font-size="28">Δ AIC = –135.5</text>
<text x="753.6999999999999" y="1467.6" text-anchor="start" font-size="28">Δ MAE = –1.0</text>
<circle cx="995.55" cy="1319.30" r="9.7" fill="#f7f7f7" stroke="#111" stroke-width="2.6"/>
<circle cx="1014.05" cy="1333.60" r="9.7" fill="#f7f7f7" stroke="#111" stroke-width="2.6"/>
<circle cx="1032.45" cy="1347.50" r="9.7" fill="#f7f7f7" stroke="#111" stroke-width="2.6"/>
<circle cx="1051.75" cy="1361.50" r="9.7" fill="#f7f7f7" stroke="#111" stroke-width="2.6"/>
<circle cx="1088.65" cy="1387.90" r="9.7" fill="#f7f7f7" stroke="#111" stroke-width="2.6"/>
<circle cx="1144.15" cy="1412.20" r="9.7" fill="#f7f7f7" stroke="#111" stroke-width="2.6"/>
<circle cx="1254.45" cy="1340.90" r="9.7" fill="#f7f7f7" stroke="#111" stroke-width="2.6"/>
<circle cx="1014.05" cy="1318.50" r="9.7" fill="#1a1a1a" stroke="#111" stroke-width="2.6"/>
<circle cx="1032.45" cy="1290.80" r="9.7" fill="#1a1a1a" stroke="#111" stroke-width="2.6"/>
<circle cx="1050.95" cy="1263.10" r="9.7" fill="#1a1a1a" stroke="#111" stroke-width="2.6"/>
<circle cx="1069.45" cy="1234.60" r="9.7" fill="#1a1a1a" stroke="#111" stroke-width="2.6"/>
<circle cx="1106.35" cy="1181.80" r="9.7" fill="#1a1a1a" stroke="#111" stroke-width="2.6"/>
<circle cx="1162.05" cy="1166.80" r="9.7" fill="#1a1a1a" stroke="#111" stroke-width="2.6"/>
<circle cx="1254.45" cy="1236.70" r="9.7" fill="#1a1a1a" stroke="#111" stroke-width="2.6"/>
<text x="1196.7" y="1434.1" text-anchor="start" font-size="28">Δ AIC = –141.8</text>
<text x="1196.7" y="1469.8" text-anchor="start" font-size="28">Δ MAE = –2.8</text>
<circle cx="1439.95" cy="1319.30" r="9.7" fill="#f7f7f7" stroke="#111" stroke-width="2.6"/>
<circle cx="1458.35" cy="1333.60" r="9.7" fill="#f7f7f7" stroke="#111" stroke-width="2.6"/>
<circle cx="1476.85" cy="1347.50" r="9.7" fill="#f7f7f7" stroke="#111" stroke-width="2.6"/>
<circle cx="1495.35" cy="1362.10" r="9.7" fill="#f7f7f7" stroke="#111" stroke-width="2.6"/>
<circle cx="1532.25" cy="1389.20" r="9.7" fill="#f7f7f7" stroke="#111" stroke-width="2.6"/>
<circle cx="1601.75" cy="1431.20" r="9.7" fill="#f7f7f7" stroke="#111" stroke-width="2.6"/>
<circle cx="1676.15" cy="1474.20" r="9.7" fill="#f7f7f7" stroke="#111" stroke-width="2.6"/>
<circle cx="1828.45" cy="1474.20" r="9.7" fill="#f7f7f7" stroke="#111" stroke-width="2.6"/>
<circle cx="1457.85" cy="1318.50" r="9.7" fill="#1a1a1a" stroke="#111" stroke-width="2.6"/>
<circle cx="1476.35" cy="1290.80" r="9.7" fill="#1a1a1a" stroke="#111" stroke-width="2.6"/>
<circle cx="1494.85" cy="1263.10" r="9.7" fill="#1a1a1a" stroke="#111" stroke-width="2.6"/>
<circle cx="1513.25" cy="1234.60" r="9.7" fill="#1a1a1a" stroke="#111" stroke-width="2.6"/>
<circle cx="1550.75" cy="1181.80" r="9.7" fill="#1a1a1a" stroke="#111" stroke-width="2.6"/>
<circle cx="1588.25" cy="1178.10" r="9.7" fill="#1a1a1a" stroke="#111" stroke-width="2.6"/>
<circle cx="1680.85" cy="1248.60" r="9.7" fill="#1a1a1a" stroke="#111" stroke-width="2.6"/>
<text x="1632.3999999999999" y="1383.5" text-anchor="start" font-size="28">Δ AIC = –110.4</text>
<text x="1632.3999999999999" y="1418.8" text-anchor="start" font-size="28">Δ MAE = –3.9</text>
<text x="1706.9" y="1464.5" text-anchor="start" font-size="28">Extinct</text>
<circle cx="114.15" cy="1748.50" r="9.7" fill="#f7f7f7" stroke="#111" stroke-width="2.6"/>
<circle cx="132.65" cy="1720.80" r="9.7" fill="#f7f7f7" stroke="#111" stroke-width="2.6"/>
<circle cx="151.15" cy="1693.10" r="9.7" fill="#f7f7f7" stroke="#111" stroke-width="2.6"/>
<circle cx="169.65" cy="1665.40" r="9.7" fill="#f7f7f7" stroke="#111" stroke-width="2.6"/>
<circle cx="206.55" cy="1617.80" r="9.7" fill="#f7f7f7" stroke="#111" stroke-width="2.6"/>
<circle cx="262.55" cy="1577.50" r="9.7" fill="#f7f7f7" stroke="#111" stroke-width="2.6"/>
<circle cx="354.95" cy="1568.20" r="9.7" fill="#f7f7f7" stroke="#111" stroke-width="2.6"/>
<circle cx="132.65" cy="1748.50" r="9.7" fill="#1a1a1a" stroke="#111" stroke-width="2.6"/>
<circle cx="151.15" cy="1720.80" r="9.7" fill="#1a1a1a" stroke="#111" stroke-width="2.6"/>
<circle cx="169.65" cy="1693.10" r="9.7" fill="#1a1a1a" stroke="#111" stroke-width="2.6"/>
<circle cx="188.05" cy="1665.40" r="9.7" fill="#1a1a1a" stroke="#111" stroke-width="2.6"/>
<circle cx="225.05" cy="1617.80" r="9.7" fill="#1a1a1a" stroke="#111" stroke-width="2.6"/>
<circle cx="281.05" cy="1577.50" r="9.7" fill="#1a1a1a" stroke="#111" stroke-width="2.6"/>
<circle cx="373.35" cy="1568.20" r="9.7" fill="#1a1a1a" stroke="#111" stroke-width="2.6"/>
<text x="348.1" y="1926.1" text-anchor="start" font-size="28">Δ AIC = 2.0</text>
<text x="348.1" y="1961.8" text-anchor="start" font-size="28">Δ MAE = 0.0</text>
<circle cx="558.05" cy="1749.00" r="9.7" fill="#f7f7f7" stroke="#111" stroke-width="2.6"/>
<circle cx="576.45" cy="1739.30" r="9.7" fill="#f7f7f7" stroke="#111" stroke-width="2.6"/>
<circle cx="613.45" cy="1767.00" r="9.7" fill="#f7f7f7" stroke="#111" stroke-width="2.6"/>
<circle cx="650.35" cy="1794.70" r="9.7" fill="#f7f7f7" stroke="#111" stroke-width="2.6"/>
<circle cx="705.85" cy="1836.40" r="9.7" fill="#f7f7f7" stroke="#111" stroke-width="2.6"/>
<circle cx="812.15" cy="1906.30" r="9.7" fill="#f7f7f7" stroke="#111" stroke-width="2.6"/>
<circle cx="575.95" cy="1749.00" r="9.7" fill="#1a1a1a" stroke="#111" stroke-width="2.6"/>
<circle cx="594.45" cy="1720.80" r="9.7" fill="#1a1a1a" stroke="#111" stroke-width="2.6"/>
<circle cx="612.95" cy="1693.10" r="9.7" fill="#1a1a1a" stroke="#111" stroke-width="2.6"/>
<circle cx="631.35" cy="1664.80" r="9.7" fill="#1a1a1a" stroke="#111" stroke-width="2.6"/>
<circle cx="668.85" cy="1684.60" r="9.7" fill="#1a1a1a" stroke="#111" stroke-width="2.6"/>
<circle cx="724.25" cy="1726.60" r="9.7" fill="#1a1a1a" stroke="#111" stroke-width="2.6"/>
<circle cx="812.15" cy="1796.80" r="9.7" fill="#1a1a1a" stroke="#111" stroke-width="2.6"/>
<circle cx="594.95" cy="1752.40" r="9.7" fill="#f7f7f7" stroke="#111" stroke-width="2.6"/>
<text x="553.0999999999999" y="1926.7" text-anchor="start" font-size="28">Δ AIC = –86.2</text>
<text x="553.0999999999999" y="1961.8" text-anchor="start" font-size="28">Δ MAE = –1.5</text>
<circle cx="995.55" cy="1749.30" r="9.7" fill="#f7f7f7" stroke="#111" stroke-width="2.6"/>
<circle cx="1014.05" cy="1763.50" r="9.7" fill="#f7f7f7" stroke="#111" stroke-width="2.6"/>
<circle cx="1032.45" cy="1777.50" r="9.7" fill="#f7f7f7" stroke="#111" stroke-width="2.6"/>
<circle cx="1051.75" cy="1791.20" r="9.7" fill="#f7f7f7" stroke="#111" stroke-width="2.6"/>
<circle cx="1088.65" cy="1819.20" r="9.7" fill="#f7f7f7" stroke="#111" stroke-width="2.6"/>
<circle cx="1144.15" cy="1860.70" r="9.7" fill="#f7f7f7" stroke="#111" stroke-width="2.6"/>
<circle cx="1254.45" cy="1931.10" r="9.7" fill="#f7f7f7" stroke="#111" stroke-width="2.6"/>
<circle cx="1014.05" cy="1748.50" r="9.7" fill="#1a1a1a" stroke="#111" stroke-width="2.6"/>
<circle cx="1032.45" cy="1720.80" r="9.7" fill="#1a1a1a" stroke="#111" stroke-width="2.6"/>
<circle cx="1050.95" cy="1693.10" r="9.7" fill="#1a1a1a" stroke="#111" stroke-width="2.6"/>
<circle cx="1069.45" cy="1664.80" r="9.7" fill="#1a1a1a" stroke="#111" stroke-width="2.6"/>
<circle cx="1106.35" cy="1679.90" r="9.7" fill="#1a1a1a" stroke="#111" stroke-width="2.6"/>
<circle cx="1162.05" cy="1721.60" r="9.7" fill="#1a1a1a" stroke="#111" stroke-width="2.6"/>
<circle cx="1254.45" cy="1792.00" r="9.7" fill="#1a1a1a" stroke="#111" stroke-width="2.6"/>
<text x="984.0" y="1926.7" text-anchor="start" font-size="28">Δ AIC = –77.8</text>
<text x="984.0" y="1961.8" text-anchor="start" font-size="28">Δ MAE = –2.2</text>
<circle cx="1439.95" cy="1749.30" r="9.7" fill="#f7f7f7" stroke="#111" stroke-width="2.6"/>
<circle cx="1458.35" cy="1763.50" r="9.7" fill="#f7f7f7" stroke="#111" stroke-width="2.6"/>
<circle cx="1476.85" cy="1777.50" r="9.7" fill="#f7f7f7" stroke="#111" stroke-width="2.6"/>
<circle cx="1495.35" cy="1791.20" r="9.7" fill="#f7f7f7" stroke="#111" stroke-width="2.6"/>
<circle cx="1532.85" cy="1819.20" r="9.7" fill="#f7f7f7" stroke="#111" stroke-width="2.6"/>
<circle cx="1588.25" cy="1860.70" r="9.7" fill="#f7f7f7" stroke="#111" stroke-width="2.6"/>
<circle cx="1680.85" cy="1931.10" r="9.7" fill="#f7f7f7" stroke="#111" stroke-width="2.6"/>
<circle cx="1457.85" cy="1748.50" r="9.7" fill="#1a1a1a" stroke="#111" stroke-width="2.6"/>
<circle cx="1476.35" cy="1720.80" r="9.7" fill="#1a1a1a" stroke="#111" stroke-width="2.6"/>
<circle cx="1494.85" cy="1692.50" r="9.7" fill="#1a1a1a" stroke="#111" stroke-width="2.6"/>
<circle cx="1513.85" cy="1664.80" r="9.7" fill="#1a1a1a" stroke="#111" stroke-width="2.6"/>
<circle cx="1550.75" cy="1689.10" r="9.7" fill="#1a1a1a" stroke="#111" stroke-width="2.6"/>
<circle cx="1606.15" cy="1730.80" r="9.7" fill="#1a1a1a" stroke="#111" stroke-width="2.6"/>
<circle cx="1698.55" cy="1800.70" r="9.7" fill="#1a1a1a" stroke="#111" stroke-width="2.6"/>
<text x="1424.5" y="1926.7" text-anchor="start" font-size="28">Δ AIC = –38.0</text>
<text x="1424.5" y="1961.8" text-anchor="start" font-size="28">Δ MAE = –1.7</text>
<circle cx="114.15" cy="2176.80" r="9.7" fill="#f7f7f7" stroke="#111" stroke-width="2.6"/>
<circle cx="132.65" cy="2149.60" r="9.7" fill="#f7f7f7" stroke="#111" stroke-width="2.6"/>
<circle cx="151.15" cy="2123.50" r="9.7" fill="#f7f7f7" stroke="#111" stroke-width="2.6"/>
<circle cx="169.65" cy="2100.30" r="9.7" fill="#f7f7f7" stroke="#111" stroke-width="2.6"/>
<circle cx="206.55" cy="2073.90" r="9.7" fill="#f7f7f7" stroke="#111" stroke-width="2.6"/>
<circle cx="262.55" cy="2062.00" r="9.7" fill="#f7f7f7" stroke="#111" stroke-width="2.6"/>
<circle cx="354.95" cy="2060.20" r="9.7" fill="#f7f7f7" stroke="#111" stroke-width="2.6"/>
<circle cx="132.65" cy="2176.80" r="9.7" fill="#1a1a1a" stroke="#111" stroke-width="2.6"/>
<circle cx="151.15" cy="2149.60" r="9.7" fill="#1a1a1a" stroke="#111" stroke-width="2.6"/>
<circle cx="169.65" cy="2123.50" r="9.7" fill="#1a1a1a" stroke="#111" stroke-width="2.6"/>
<circle cx="188.05" cy="2100.30" r="9.7" fill="#1a1a1a" stroke="#111" stroke-width="2.6"/>
<circle cx="225.05" cy="2073.90" r="9.7" fill="#1a1a1a" stroke="#111" stroke-width="2.6"/>
<circle cx="281.05" cy="2062.00" r="9.7" fill="#1a1a1a" stroke="#111" stroke-width="2.6"/>
<circle cx="373.35" cy="2060.20" r="9.7" fill="#1a1a1a" stroke="#111" stroke-width="2.6"/>
<text x="348.1" y="2417.8" text-anchor="start" font-size="28">Δ AIC = 2.0</text>
<text x="348.1" y="2452.6" text-anchor="start" font-size="28">Δ MAE = 0.0</text>
<circle cx="558.05" cy="2176.80" r="9.7" fill="#f7f7f7" stroke="#111" stroke-width="2.6"/>
<circle cx="576.45" cy="2188.70" r="9.7" fill="#f7f7f7" stroke="#111" stroke-width="2.6"/>
<circle cx="594.95" cy="2202.70" r="9.7" fill="#f7f7f7" stroke="#111" stroke-width="2.6"/>
<circle cx="613.45" cy="2216.40" r="9.7" fill="#f7f7f7" stroke="#111" stroke-width="2.6"/>
<circle cx="650.35" cy="2244.10" r="9.7" fill="#f7f7f7" stroke="#111" stroke-width="2.6"/>
<circle cx="706.35" cy="2285.80" r="9.7" fill="#f7f7f7" stroke="#111" stroke-width="2.6"/>
<circle cx="798.95" cy="2355.80" r="9.7" fill="#f7f7f7" stroke="#111" stroke-width="2.6"/>
<circle cx="575.95" cy="2176.80" r="9.7" fill="#1a1a1a" stroke="#111" stroke-width="2.6"/>
<circle cx="594.45" cy="2188.20" r="9.7" fill="#1a1a1a" stroke="#111" stroke-width="2.6"/>
<circle cx="612.95" cy="2201.90" r="9.7" fill="#1a1a1a" stroke="#111" stroke-width="2.6"/>
<circle cx="631.35" cy="2216.40" r="9.7" fill="#1a1a1a" stroke="#111" stroke-width="2.6"/>
<circle cx="668.85" cy="2244.10" r="9.7" fill="#1a1a1a" stroke="#111" stroke-width="2.6"/>
<circle cx="724.25" cy="2285.80" r="9.7" fill="#1a1a1a" stroke="#111" stroke-width="2.6"/>
<circle cx="816.65" cy="2355.80" r="9.7" fill="#1a1a1a" stroke="#111" stroke-width="2.6"/>
<text x="783.5" y="2417.8" text-anchor="start" font-size="28">Δ AIC = 2.0</text>
<text x="783.5" y="2452.6" text-anchor="start" font-size="28">Δ MAE = 0.0</text>
<circle cx="995.55" cy="2177.40" r="9.7" fill="#f7f7f7" stroke="#111" stroke-width="2.6"/>
<circle cx="1014.05" cy="2191.30" r="9.7" fill="#f7f7f7" stroke="#111" stroke-width="2.6"/>
<circle cx="1032.45" cy="2205.30" r="9.7" fill="#f7f7f7" stroke="#111" stroke-width="2.6"/>
<circle cx="1051.25" cy="2219.60" r="9.7" fill="#f7f7f7" stroke="#111" stroke-width="2.6"/>
<circle cx="1088.65" cy="2247.30" r="9.7" fill="#f7f7f7" stroke="#111" stroke-width="2.6"/>
<circle cx="1144.15" cy="2289.00" r="9.7" fill="#f7f7f7" stroke="#111" stroke-width="2.6"/>
<circle cx="1236.55" cy="2359.50" r="9.7" fill="#f7f7f7" stroke="#111" stroke-width="2.6"/>
<circle cx="1013.45" cy="2177.40" r="9.7" fill="#1a1a1a" stroke="#111" stroke-width="2.6"/>
<circle cx="1032.45" cy="2191.30" r="9.7" fill="#1a1a1a" stroke="#111" stroke-width="2.6"/>
<circle cx="1050.95" cy="2205.30" r="9.7" fill="#1a1a1a" stroke="#111" stroke-width="2.6"/>
<circle cx="1069.45" cy="2219.60" r="9.7" fill="#1a1a1a" stroke="#111" stroke-width="2.6"/>
<circle cx="1106.35" cy="2247.30" r="9.7" fill="#1a1a1a" stroke="#111" stroke-width="2.6"/>
<circle cx="1162.05" cy="2289.00" r="9.7" fill="#1a1a1a" stroke="#111" stroke-width="2.6"/>
<circle cx="1254.95" cy="2359.50" r="9.7" fill="#1a1a1a" stroke="#111" stroke-width="2.6"/>
<text x="1222.3" y="2417.8" text-anchor="start" font-size="28">Δ AIC = 2.0</text>
<text x="1222.3" y="2452.6" text-anchor="start" font-size="28">Δ MAE = 0.0</text>
<circle cx="1439.95" cy="2177.40" r="9.7" fill="#f7f7f7" stroke="#111" stroke-width="2.6"/>
<circle cx="1458.35" cy="2191.30" r="9.7" fill="#f7f7f7" stroke="#111" stroke-width="2.6"/>
<circle cx="1476.85" cy="2205.30" r="9.7" fill="#f7f7f7" stroke="#111" stroke-width="2.6"/>
<circle cx="1495.35" cy="2219.60" r="9.7" fill="#f7f7f7" stroke="#111" stroke-width="2.6"/>
<circle cx="1532.25" cy="2247.30" r="9.7" fill="#f7f7f7" stroke="#111" stroke-width="2.6"/>
<circle cx="1588.25" cy="2289.00" r="9.7" fill="#f7f7f7" stroke="#111" stroke-width="2.6"/>
<circle cx="1680.65" cy="2359.50" r="9.7" fill="#f7f7f7" stroke="#111" stroke-width="2.6"/>
<circle cx="1457.85" cy="2177.40" r="9.7" fill="#1a1a1a" stroke="#111" stroke-width="2.6"/>
<circle cx="1476.35" cy="2191.30" r="9.7" fill="#1a1a1a" stroke="#111" stroke-width="2.6"/>
<circle cx="1494.85" cy="2205.30" r="9.7" fill="#1a1a1a" stroke="#111" stroke-width="2.6"/>
<circle cx="1513.85" cy="2219.60" r="9.7" fill="#1a1a1a" stroke="#111" stroke-width="2.6"/>
<circle cx="1550.75" cy="2247.30" r="9.7" fill="#1a1a1a" stroke="#111" stroke-width="2.6"/>
<circle cx="1606.15" cy="2289.00" r="9.7" fill="#1a1a1a" stroke="#111" stroke-width="2.6"/>
<circle cx="1698.55" cy="2359.50" r="9.7" fill="#1a1a1a" stroke="#111" stroke-width="2.6"/>
<text x="1649.6" y="2419.1" text-anchor="start" font-size="28">Δ AIC = –6.5</text>
<text x="1649.6" y="2454.8" text-anchor="start" font-size="28">Δ MAE = –0.3</text>
</svg></body></html>
